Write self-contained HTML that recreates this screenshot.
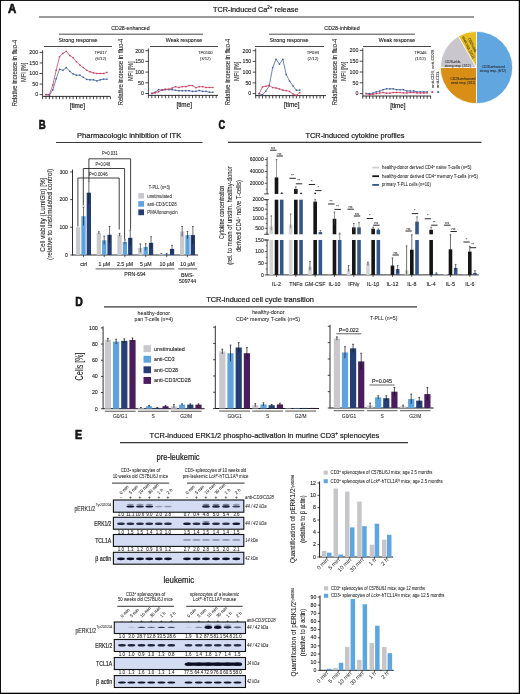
<!DOCTYPE html>
<html><head><meta charset="utf-8"><style>
html,body{margin:0;padding:0;background:#fff;}
svg{display:block;will-change:transform;}
text{font-family:"Liberation Sans", sans-serif;fill:#1a1a1a;}
</style></head><body>
<svg width="520" height="694" viewBox="0 0 520 694">
<rect width="520" height="694" fill="#fff"/>
<text x="8.10" y="12.50" font-size="12.4" textLength="8.3" lengthAdjust="spacingAndGlyphs" font-weight="bold" style="stroke:#000;stroke-width:0.55">A</text>
<text x="213.00" y="11.80" font-size="7.3" stroke="#1a1a1a" stroke-width="0.2">TCR-induced Ca<tspan font-size="4.5" dy="-2.6">2+</tspan><tspan dy="2.6"> release</tspan></text>
<line x1="39.00" y1="17.00" x2="474.00" y2="17.00" stroke="#383838" stroke-width="1.2"/>
<text x="130.50" y="29.70" font-size="5" text-anchor="middle" textLength="38.5" lengthAdjust="spacingAndGlyphs" stroke="#1a1a1a" stroke-width="0.1">CD28-enhanced</text>
<line x1="59.00" y1="34.20" x2="203.00" y2="34.20" stroke="#1a1a1a" stroke-width="0.8"/>
<text x="342.00" y="29.70" font-size="5" text-anchor="middle" textLength="35.5" lengthAdjust="spacingAndGlyphs" stroke="#1a1a1a" stroke-width="0.1">CD28-inhibited</text>
<line x1="269.00" y1="34.20" x2="415.00" y2="34.20" stroke="#1a1a1a" stroke-width="0.8"/>
<text x="78.00" y="42.17" font-size="5.2" text-anchor="middle" textLength="39" lengthAdjust="spacingAndGlyphs" stroke="#1a1a1a" stroke-width="0.1">Strong response</text>
<line x1="44.00" y1="46.50" x2="112.00" y2="46.50" stroke="#1a1a1a" stroke-width="0.8"/>
<line x1="42.60" y1="50.20" x2="42.60" y2="96.80" stroke="#1a1a1a" stroke-width="0.8"/>
<line x1="39.60" y1="94.60" x2="42.60" y2="94.60" stroke="#1a1a1a" stroke-width="0.8"/>
<text x="38.20" y="96.40" font-size="5.3" text-anchor="end" stroke="#1a1a1a" stroke-width="0.1">0</text>
<line x1="39.60" y1="84.05" x2="42.60" y2="84.05" stroke="#1a1a1a" stroke-width="0.8"/>
<text x="38.20" y="85.85" font-size="5.3" text-anchor="end" stroke="#1a1a1a" stroke-width="0.1">50</text>
<line x1="39.60" y1="73.50" x2="42.60" y2="73.50" stroke="#1a1a1a" stroke-width="0.8"/>
<text x="38.20" y="75.30" font-size="5.3" text-anchor="end" stroke="#1a1a1a" stroke-width="0.1">100</text>
<line x1="39.60" y1="62.95" x2="42.60" y2="62.95" stroke="#1a1a1a" stroke-width="0.8"/>
<text x="38.20" y="64.75" font-size="5.3" text-anchor="end" stroke="#1a1a1a" stroke-width="0.1">150</text>
<line x1="39.60" y1="52.40" x2="42.60" y2="52.40" stroke="#1a1a1a" stroke-width="0.8"/>
<text x="38.20" y="54.20" font-size="5.3" text-anchor="end" stroke="#1a1a1a" stroke-width="0.1">200</text>
<line x1="42.60" y1="96.40" x2="110.20" y2="96.40" stroke="#1a1a1a" stroke-width="0.9"/>
<line x1="42.60" y1="96.40" x2="42.60" y2="99.20" stroke="#1a1a1a" stroke-width="0.8"/>
<line x1="45.99" y1="96.40" x2="45.99" y2="99.20" stroke="#1a1a1a" stroke-width="0.8"/>
<line x1="49.38" y1="96.40" x2="49.38" y2="99.20" stroke="#1a1a1a" stroke-width="0.8"/>
<line x1="52.77" y1="96.40" x2="52.77" y2="99.20" stroke="#1a1a1a" stroke-width="0.8"/>
<line x1="56.16" y1="96.40" x2="56.16" y2="99.20" stroke="#1a1a1a" stroke-width="0.8"/>
<line x1="59.55" y1="96.40" x2="59.55" y2="99.20" stroke="#1a1a1a" stroke-width="0.8"/>
<line x1="62.94" y1="96.40" x2="62.94" y2="99.20" stroke="#1a1a1a" stroke-width="0.8"/>
<line x1="66.33" y1="96.40" x2="66.33" y2="99.20" stroke="#1a1a1a" stroke-width="0.8"/>
<line x1="69.72" y1="96.40" x2="69.72" y2="99.20" stroke="#1a1a1a" stroke-width="0.8"/>
<line x1="73.11" y1="96.40" x2="73.11" y2="99.20" stroke="#1a1a1a" stroke-width="0.8"/>
<line x1="76.50" y1="96.40" x2="76.50" y2="99.20" stroke="#1a1a1a" stroke-width="0.8"/>
<line x1="79.89" y1="96.40" x2="79.89" y2="99.20" stroke="#1a1a1a" stroke-width="0.8"/>
<line x1="83.28" y1="96.40" x2="83.28" y2="99.20" stroke="#1a1a1a" stroke-width="0.8"/>
<line x1="86.67" y1="96.40" x2="86.67" y2="99.20" stroke="#1a1a1a" stroke-width="0.8"/>
<line x1="90.06" y1="96.40" x2="90.06" y2="99.20" stroke="#1a1a1a" stroke-width="0.8"/>
<line x1="93.45" y1="96.40" x2="93.45" y2="99.20" stroke="#1a1a1a" stroke-width="0.8"/>
<line x1="96.84" y1="96.40" x2="96.84" y2="99.20" stroke="#1a1a1a" stroke-width="0.8"/>
<line x1="100.23" y1="96.40" x2="100.23" y2="99.20" stroke="#1a1a1a" stroke-width="0.8"/>
<line x1="103.62" y1="96.40" x2="103.62" y2="99.20" stroke="#1a1a1a" stroke-width="0.8"/>
<line x1="107.01" y1="96.40" x2="107.01" y2="99.20" stroke="#1a1a1a" stroke-width="0.8"/>
<line x1="110.40" y1="96.40" x2="110.40" y2="99.20" stroke="#1a1a1a" stroke-width="0.8"/>
<path d="M45.99,94.60 L49.38,95.23 L52.77,89.96 L56.16,78.77 L59.55,69.28 L62.94,70.33 L66.33,67.59 L69.72,71.39 L73.11,73.92 L76.50,75.19 L79.89,75.19 L83.28,77.30 L86.67,79.41 L90.06,79.83 L93.45,79.83 L96.84,80.88 L100.23,79.83 L103.62,79.20 L107.01,79.20" fill="none" stroke="#3d5c9c" stroke-width="0.75" stroke-linejoin="round"/>
<rect x="45.29" y="93.90" width="1.40" height="1.40" fill="#3d5c9c" />
<rect x="48.68" y="94.53" width="1.40" height="1.40" fill="#3d5c9c" />
<rect x="52.07" y="89.26" width="1.40" height="1.40" fill="#3d5c9c" />
<rect x="55.46" y="78.07" width="1.40" height="1.40" fill="#3d5c9c" />
<rect x="58.85" y="68.58" width="1.40" height="1.40" fill="#3d5c9c" />
<rect x="62.24" y="69.63" width="1.40" height="1.40" fill="#3d5c9c" />
<rect x="65.63" y="66.89" width="1.40" height="1.40" fill="#3d5c9c" />
<rect x="69.02" y="70.69" width="1.40" height="1.40" fill="#3d5c9c" />
<rect x="72.41" y="73.22" width="1.40" height="1.40" fill="#3d5c9c" />
<rect x="75.80" y="74.49" width="1.40" height="1.40" fill="#3d5c9c" />
<rect x="79.19" y="74.49" width="1.40" height="1.40" fill="#3d5c9c" />
<rect x="82.58" y="76.60" width="1.40" height="1.40" fill="#3d5c9c" />
<rect x="85.97" y="78.71" width="1.40" height="1.40" fill="#3d5c9c" />
<rect x="89.36" y="79.13" width="1.40" height="1.40" fill="#3d5c9c" />
<rect x="92.75" y="79.13" width="1.40" height="1.40" fill="#3d5c9c" />
<rect x="96.14" y="80.18" width="1.40" height="1.40" fill="#3d5c9c" />
<rect x="99.53" y="79.13" width="1.40" height="1.40" fill="#3d5c9c" />
<rect x="102.92" y="78.50" width="1.40" height="1.40" fill="#3d5c9c" />
<rect x="106.31" y="78.50" width="1.40" height="1.40" fill="#3d5c9c" />
<path d="M45.99,94.60 L49.38,94.60 L52.77,85.10 L56.16,70.33 L59.55,56.62 L62.94,53.45 L66.33,51.34 L69.72,55.56 L73.11,57.67 L76.50,61.90 L79.89,65.06 L83.28,67.59 L86.67,70.33 L90.06,71.81 L93.45,72.87 L96.84,73.50 L100.23,73.50 L103.62,73.50 L107.01,72.44" fill="none" stroke="#cc3a5c" stroke-width="0.75" stroke-linejoin="round"/>
<rect x="45.29" y="93.90" width="1.40" height="1.40" fill="#cc3a5c" />
<rect x="48.68" y="93.90" width="1.40" height="1.40" fill="#cc3a5c" />
<rect x="52.07" y="84.40" width="1.40" height="1.40" fill="#cc3a5c" />
<rect x="55.46" y="69.63" width="1.40" height="1.40" fill="#cc3a5c" />
<rect x="58.85" y="55.92" width="1.40" height="1.40" fill="#cc3a5c" />
<rect x="62.24" y="52.75" width="1.40" height="1.40" fill="#cc3a5c" />
<rect x="65.63" y="50.64" width="1.40" height="1.40" fill="#cc3a5c" />
<rect x="69.02" y="54.86" width="1.40" height="1.40" fill="#cc3a5c" />
<rect x="72.41" y="56.97" width="1.40" height="1.40" fill="#cc3a5c" />
<rect x="75.80" y="61.20" width="1.40" height="1.40" fill="#cc3a5c" />
<rect x="79.19" y="64.36" width="1.40" height="1.40" fill="#cc3a5c" />
<rect x="82.58" y="66.89" width="1.40" height="1.40" fill="#cc3a5c" />
<rect x="85.97" y="69.63" width="1.40" height="1.40" fill="#cc3a5c" />
<rect x="89.36" y="71.11" width="1.40" height="1.40" fill="#cc3a5c" />
<rect x="92.75" y="72.17" width="1.40" height="1.40" fill="#cc3a5c" />
<rect x="96.14" y="72.80" width="1.40" height="1.40" fill="#cc3a5c" />
<rect x="99.53" y="72.80" width="1.40" height="1.40" fill="#cc3a5c" />
<rect x="102.92" y="72.80" width="1.40" height="1.40" fill="#cc3a5c" />
<rect x="106.31" y="71.74" width="1.40" height="1.40" fill="#cc3a5c" />
<text x="100.70" y="54.23" font-size="4.2" text-anchor="middle" fill="#222" stroke="#222" stroke-width="0.04">TP017</text>
<text x="100.70" y="60.03" font-size="4.2" text-anchor="middle" fill="#222" stroke="#222" stroke-width="0.04">(6/12)</text>
<text x="77.40" y="107.98" font-size="7.6" text-anchor="middle" textLength="15.5" lengthAdjust="spacingAndGlyphs" stroke="#1a1a1a" stroke-width="0.2">[time]</text>
<text transform="translate(14.30,73.10) rotate(-90)" x="0" y="2.38" font-size="7" text-anchor="middle" textLength="66.5" lengthAdjust="spacingAndGlyphs" stroke="#1a1a1a" stroke-width="0.07">Relative increase in fluo-4</text>
<text transform="translate(23.60,72.30) rotate(-90)" x="0" y="2.38" font-size="7" text-anchor="middle" textLength="19.4" lengthAdjust="spacingAndGlyphs" stroke="#1a1a1a" stroke-width="0.07">MFI [%]</text>
<text x="184.00" y="42.17" font-size="5.2" text-anchor="middle" textLength="36.4" lengthAdjust="spacingAndGlyphs" stroke="#1a1a1a" stroke-width="0.1">Weak response</text>
<line x1="150.00" y1="46.50" x2="218.00" y2="46.50" stroke="#1a1a1a" stroke-width="0.8"/>
<line x1="148.40" y1="48.50" x2="148.40" y2="95.80" stroke="#1a1a1a" stroke-width="0.8"/>
<line x1="145.40" y1="93.50" x2="148.40" y2="93.50" stroke="#1a1a1a" stroke-width="0.8"/>
<text x="144.00" y="95.30" font-size="5.3" text-anchor="end" stroke="#1a1a1a" stroke-width="0.1">0</text>
<line x1="145.40" y1="82.80" x2="148.40" y2="82.80" stroke="#1a1a1a" stroke-width="0.8"/>
<text x="144.00" y="84.60" font-size="5.3" text-anchor="end" stroke="#1a1a1a" stroke-width="0.1">50</text>
<line x1="145.40" y1="72.10" x2="148.40" y2="72.10" stroke="#1a1a1a" stroke-width="0.8"/>
<text x="144.00" y="73.90" font-size="5.3" text-anchor="end" stroke="#1a1a1a" stroke-width="0.1">100</text>
<line x1="145.40" y1="61.40" x2="148.40" y2="61.40" stroke="#1a1a1a" stroke-width="0.8"/>
<text x="144.00" y="63.20" font-size="5.3" text-anchor="end" stroke="#1a1a1a" stroke-width="0.1">150</text>
<line x1="145.40" y1="50.70" x2="148.40" y2="50.70" stroke="#1a1a1a" stroke-width="0.8"/>
<text x="144.00" y="52.50" font-size="5.3" text-anchor="end" stroke="#1a1a1a" stroke-width="0.1">200</text>
<line x1="148.40" y1="95.40" x2="218.00" y2="95.40" stroke="#1a1a1a" stroke-width="0.9"/>
<line x1="148.40" y1="95.40" x2="148.40" y2="98.20" stroke="#1a1a1a" stroke-width="0.8"/>
<line x1="151.79" y1="95.40" x2="151.79" y2="98.20" stroke="#1a1a1a" stroke-width="0.8"/>
<line x1="155.18" y1="95.40" x2="155.18" y2="98.20" stroke="#1a1a1a" stroke-width="0.8"/>
<line x1="158.57" y1="95.40" x2="158.57" y2="98.20" stroke="#1a1a1a" stroke-width="0.8"/>
<line x1="161.96" y1="95.40" x2="161.96" y2="98.20" stroke="#1a1a1a" stroke-width="0.8"/>
<line x1="165.35" y1="95.40" x2="165.35" y2="98.20" stroke="#1a1a1a" stroke-width="0.8"/>
<line x1="168.74" y1="95.40" x2="168.74" y2="98.20" stroke="#1a1a1a" stroke-width="0.8"/>
<line x1="172.13" y1="95.40" x2="172.13" y2="98.20" stroke="#1a1a1a" stroke-width="0.8"/>
<line x1="175.52" y1="95.40" x2="175.52" y2="98.20" stroke="#1a1a1a" stroke-width="0.8"/>
<line x1="178.91" y1="95.40" x2="178.91" y2="98.20" stroke="#1a1a1a" stroke-width="0.8"/>
<line x1="182.30" y1="95.40" x2="182.30" y2="98.20" stroke="#1a1a1a" stroke-width="0.8"/>
<line x1="185.69" y1="95.40" x2="185.69" y2="98.20" stroke="#1a1a1a" stroke-width="0.8"/>
<line x1="189.08" y1="95.40" x2="189.08" y2="98.20" stroke="#1a1a1a" stroke-width="0.8"/>
<line x1="192.47" y1="95.40" x2="192.47" y2="98.20" stroke="#1a1a1a" stroke-width="0.8"/>
<line x1="195.86" y1="95.40" x2="195.86" y2="98.20" stroke="#1a1a1a" stroke-width="0.8"/>
<line x1="199.25" y1="95.40" x2="199.25" y2="98.20" stroke="#1a1a1a" stroke-width="0.8"/>
<line x1="202.64" y1="95.40" x2="202.64" y2="98.20" stroke="#1a1a1a" stroke-width="0.8"/>
<line x1="206.03" y1="95.40" x2="206.03" y2="98.20" stroke="#1a1a1a" stroke-width="0.8"/>
<line x1="209.42" y1="95.40" x2="209.42" y2="98.20" stroke="#1a1a1a" stroke-width="0.8"/>
<line x1="212.81" y1="95.40" x2="212.81" y2="98.20" stroke="#1a1a1a" stroke-width="0.8"/>
<line x1="216.20" y1="95.40" x2="216.20" y2="98.20" stroke="#1a1a1a" stroke-width="0.8"/>
<path d="M151.79,93.50 L155.18,92.22 L158.57,89.65 L161.96,90.29 L165.35,89.65 L168.74,89.65 L172.13,89.65 L175.52,90.29 L178.91,90.72 L182.30,90.72 L185.69,90.72 L189.08,90.72 L192.47,91.36 L195.86,91.36 L199.25,90.50 L202.64,91.36 L206.03,91.36 L209.42,92.22 L212.81,92.22" fill="none" stroke="#3d5c9c" stroke-width="0.75" stroke-linejoin="round"/>
<rect x="151.09" y="92.80" width="1.40" height="1.40" fill="#3d5c9c" />
<rect x="154.48" y="91.52" width="1.40" height="1.40" fill="#3d5c9c" />
<rect x="157.87" y="88.95" width="1.40" height="1.40" fill="#3d5c9c" />
<rect x="161.26" y="89.59" width="1.40" height="1.40" fill="#3d5c9c" />
<rect x="164.65" y="88.95" width="1.40" height="1.40" fill="#3d5c9c" />
<rect x="168.04" y="88.95" width="1.40" height="1.40" fill="#3d5c9c" />
<rect x="171.43" y="88.95" width="1.40" height="1.40" fill="#3d5c9c" />
<rect x="174.82" y="89.59" width="1.40" height="1.40" fill="#3d5c9c" />
<rect x="178.21" y="90.02" width="1.40" height="1.40" fill="#3d5c9c" />
<rect x="181.60" y="90.02" width="1.40" height="1.40" fill="#3d5c9c" />
<rect x="184.99" y="90.02" width="1.40" height="1.40" fill="#3d5c9c" />
<rect x="188.38" y="90.02" width="1.40" height="1.40" fill="#3d5c9c" />
<rect x="191.77" y="90.66" width="1.40" height="1.40" fill="#3d5c9c" />
<rect x="195.16" y="90.66" width="1.40" height="1.40" fill="#3d5c9c" />
<rect x="198.55" y="89.80" width="1.40" height="1.40" fill="#3d5c9c" />
<rect x="201.94" y="90.66" width="1.40" height="1.40" fill="#3d5c9c" />
<rect x="205.33" y="90.66" width="1.40" height="1.40" fill="#3d5c9c" />
<rect x="208.72" y="91.52" width="1.40" height="1.40" fill="#3d5c9c" />
<rect x="212.11" y="91.52" width="1.40" height="1.40" fill="#3d5c9c" />
<path d="M151.79,93.50 L155.18,92.86 L158.57,91.79 L161.96,89.86 L165.35,89.22 L168.74,89.22 L172.13,88.15 L175.52,86.65 L178.91,87.51 L182.30,86.65 L185.69,86.65 L189.08,85.58 L192.47,85.58 L195.86,87.72 L199.25,86.65 L202.64,86.65 L206.03,87.51 L209.42,87.51 L212.81,87.51" fill="none" stroke="#cc3a5c" stroke-width="0.75" stroke-linejoin="round"/>
<rect x="151.09" y="92.80" width="1.40" height="1.40" fill="#cc3a5c" />
<rect x="154.48" y="92.16" width="1.40" height="1.40" fill="#cc3a5c" />
<rect x="157.87" y="91.09" width="1.40" height="1.40" fill="#cc3a5c" />
<rect x="161.26" y="89.16" width="1.40" height="1.40" fill="#cc3a5c" />
<rect x="164.65" y="88.52" width="1.40" height="1.40" fill="#cc3a5c" />
<rect x="168.04" y="88.52" width="1.40" height="1.40" fill="#cc3a5c" />
<rect x="171.43" y="87.45" width="1.40" height="1.40" fill="#cc3a5c" />
<rect x="174.82" y="85.95" width="1.40" height="1.40" fill="#cc3a5c" />
<rect x="178.21" y="86.81" width="1.40" height="1.40" fill="#cc3a5c" />
<rect x="181.60" y="85.95" width="1.40" height="1.40" fill="#cc3a5c" />
<rect x="184.99" y="85.95" width="1.40" height="1.40" fill="#cc3a5c" />
<rect x="188.38" y="84.88" width="1.40" height="1.40" fill="#cc3a5c" />
<rect x="191.77" y="84.88" width="1.40" height="1.40" fill="#cc3a5c" />
<rect x="195.16" y="87.02" width="1.40" height="1.40" fill="#cc3a5c" />
<rect x="198.55" y="85.95" width="1.40" height="1.40" fill="#cc3a5c" />
<rect x="201.94" y="85.95" width="1.40" height="1.40" fill="#cc3a5c" />
<rect x="205.33" y="86.81" width="1.40" height="1.40" fill="#cc3a5c" />
<rect x="208.72" y="86.81" width="1.40" height="1.40" fill="#cc3a5c" />
<rect x="212.11" y="86.81" width="1.40" height="1.40" fill="#cc3a5c" />
<text x="205.30" y="54.23" font-size="4.2" text-anchor="middle" fill="#222" stroke="#222" stroke-width="0.04">TP0100</text>
<text x="205.30" y="60.03" font-size="4.2" text-anchor="middle" fill="#222" stroke="#222" stroke-width="0.04">(3/12)</text>
<text x="184.20" y="106.98" font-size="7.6" text-anchor="middle" textLength="15.5" lengthAdjust="spacingAndGlyphs" stroke="#1a1a1a" stroke-width="0.2">[time]</text>
<text transform="translate(121.10,72.00) rotate(-90)" x="0" y="2.38" font-size="7" text-anchor="middle" textLength="66.5" lengthAdjust="spacingAndGlyphs" stroke="#1a1a1a" stroke-width="0.07">Relative increase in fluo-4</text>
<text transform="translate(130.40,71.20) rotate(-90)" x="0" y="2.38" font-size="7" text-anchor="middle" textLength="19.4" lengthAdjust="spacingAndGlyphs" stroke="#1a1a1a" stroke-width="0.07">MFI [%]</text>
<text x="289.00" y="42.17" font-size="5.2" text-anchor="middle" textLength="39" lengthAdjust="spacingAndGlyphs" stroke="#1a1a1a" stroke-width="0.1">Strong response</text>
<line x1="255.00" y1="46.50" x2="324.00" y2="46.50" stroke="#1a1a1a" stroke-width="0.8"/>
<line x1="255.70" y1="48.50" x2="255.70" y2="96.00" stroke="#1a1a1a" stroke-width="0.8"/>
<line x1="252.70" y1="93.60" x2="255.70" y2="93.60" stroke="#1a1a1a" stroke-width="0.8"/>
<text x="251.30" y="95.40" font-size="5.3" text-anchor="end" stroke="#1a1a1a" stroke-width="0.1">0</text>
<line x1="252.70" y1="82.88" x2="255.70" y2="82.88" stroke="#1a1a1a" stroke-width="0.8"/>
<text x="251.30" y="84.68" font-size="5.3" text-anchor="end" stroke="#1a1a1a" stroke-width="0.1">50</text>
<line x1="252.70" y1="72.15" x2="255.70" y2="72.15" stroke="#1a1a1a" stroke-width="0.8"/>
<text x="251.30" y="73.95" font-size="5.3" text-anchor="end" stroke="#1a1a1a" stroke-width="0.1">100</text>
<line x1="252.70" y1="61.42" x2="255.70" y2="61.42" stroke="#1a1a1a" stroke-width="0.8"/>
<text x="251.30" y="63.23" font-size="5.3" text-anchor="end" stroke="#1a1a1a" stroke-width="0.1">150</text>
<line x1="252.70" y1="50.70" x2="255.70" y2="50.70" stroke="#1a1a1a" stroke-width="0.8"/>
<text x="251.30" y="52.50" font-size="5.3" text-anchor="end" stroke="#1a1a1a" stroke-width="0.1">200</text>
<line x1="255.70" y1="95.60" x2="326.00" y2="95.60" stroke="#1a1a1a" stroke-width="0.9"/>
<line x1="255.70" y1="95.60" x2="255.70" y2="98.40" stroke="#1a1a1a" stroke-width="0.8"/>
<line x1="259.09" y1="95.60" x2="259.09" y2="98.40" stroke="#1a1a1a" stroke-width="0.8"/>
<line x1="262.48" y1="95.60" x2="262.48" y2="98.40" stroke="#1a1a1a" stroke-width="0.8"/>
<line x1="265.87" y1="95.60" x2="265.87" y2="98.40" stroke="#1a1a1a" stroke-width="0.8"/>
<line x1="269.26" y1="95.60" x2="269.26" y2="98.40" stroke="#1a1a1a" stroke-width="0.8"/>
<line x1="272.65" y1="95.60" x2="272.65" y2="98.40" stroke="#1a1a1a" stroke-width="0.8"/>
<line x1="276.04" y1="95.60" x2="276.04" y2="98.40" stroke="#1a1a1a" stroke-width="0.8"/>
<line x1="279.43" y1="95.60" x2="279.43" y2="98.40" stroke="#1a1a1a" stroke-width="0.8"/>
<line x1="282.82" y1="95.60" x2="282.82" y2="98.40" stroke="#1a1a1a" stroke-width="0.8"/>
<line x1="286.21" y1="95.60" x2="286.21" y2="98.40" stroke="#1a1a1a" stroke-width="0.8"/>
<line x1="289.60" y1="95.60" x2="289.60" y2="98.40" stroke="#1a1a1a" stroke-width="0.8"/>
<line x1="292.99" y1="95.60" x2="292.99" y2="98.40" stroke="#1a1a1a" stroke-width="0.8"/>
<line x1="296.38" y1="95.60" x2="296.38" y2="98.40" stroke="#1a1a1a" stroke-width="0.8"/>
<line x1="299.77" y1="95.60" x2="299.77" y2="98.40" stroke="#1a1a1a" stroke-width="0.8"/>
<line x1="303.16" y1="95.60" x2="303.16" y2="98.40" stroke="#1a1a1a" stroke-width="0.8"/>
<line x1="306.55" y1="95.60" x2="306.55" y2="98.40" stroke="#1a1a1a" stroke-width="0.8"/>
<line x1="309.94" y1="95.60" x2="309.94" y2="98.40" stroke="#1a1a1a" stroke-width="0.8"/>
<line x1="313.33" y1="95.60" x2="313.33" y2="98.40" stroke="#1a1a1a" stroke-width="0.8"/>
<line x1="316.72" y1="95.60" x2="316.72" y2="98.40" stroke="#1a1a1a" stroke-width="0.8"/>
<line x1="320.11" y1="95.60" x2="320.11" y2="98.40" stroke="#1a1a1a" stroke-width="0.8"/>
<line x1="323.50" y1="95.60" x2="323.50" y2="98.40" stroke="#1a1a1a" stroke-width="0.8"/>
<path d="M259.09,93.60 L262.48,94.89 L265.87,91.03 L269.26,85.88 L272.65,67.65 L276.04,59.28 L279.43,64.21 L282.82,59.28 L286.21,74.51 L289.60,81.16 L292.99,85.88 L296.38,90.17 L299.77,90.17" fill="none" stroke="#3d5c9c" stroke-width="0.75" stroke-linejoin="round"/>
<rect x="258.39" y="92.90" width="1.40" height="1.40" fill="#3d5c9c" />
<rect x="261.78" y="94.19" width="1.40" height="1.40" fill="#3d5c9c" />
<rect x="265.17" y="90.33" width="1.40" height="1.40" fill="#3d5c9c" />
<rect x="268.56" y="85.18" width="1.40" height="1.40" fill="#3d5c9c" />
<rect x="271.95" y="66.95" width="1.40" height="1.40" fill="#3d5c9c" />
<rect x="275.34" y="58.58" width="1.40" height="1.40" fill="#3d5c9c" />
<rect x="278.73" y="63.51" width="1.40" height="1.40" fill="#3d5c9c" />
<rect x="282.12" y="58.58" width="1.40" height="1.40" fill="#3d5c9c" />
<rect x="285.51" y="73.81" width="1.40" height="1.40" fill="#3d5c9c" />
<rect x="288.90" y="80.46" width="1.40" height="1.40" fill="#3d5c9c" />
<rect x="292.29" y="85.18" width="1.40" height="1.40" fill="#3d5c9c" />
<rect x="295.68" y="89.47" width="1.40" height="1.40" fill="#3d5c9c" />
<rect x="299.07" y="89.47" width="1.40" height="1.40" fill="#3d5c9c" />
<path d="M259.09,93.60 L262.48,86.95 L265.87,86.31 L269.26,85.23 L272.65,87.59 L276.04,88.02 L279.43,88.88 L282.82,90.17 L286.21,90.60 L289.60,91.45 L292.99,94.03 L296.38,95.32 L299.77,92.74" fill="none" stroke="#cc3a5c" stroke-width="0.75" stroke-linejoin="round"/>
<rect x="258.39" y="92.90" width="1.40" height="1.40" fill="#cc3a5c" />
<rect x="261.78" y="86.25" width="1.40" height="1.40" fill="#cc3a5c" />
<rect x="265.17" y="85.61" width="1.40" height="1.40" fill="#cc3a5c" />
<rect x="268.56" y="84.53" width="1.40" height="1.40" fill="#cc3a5c" />
<rect x="271.95" y="86.89" width="1.40" height="1.40" fill="#cc3a5c" />
<rect x="275.34" y="87.32" width="1.40" height="1.40" fill="#cc3a5c" />
<rect x="278.73" y="88.18" width="1.40" height="1.40" fill="#cc3a5c" />
<rect x="282.12" y="89.47" width="1.40" height="1.40" fill="#cc3a5c" />
<rect x="285.51" y="89.90" width="1.40" height="1.40" fill="#cc3a5c" />
<rect x="288.90" y="90.75" width="1.40" height="1.40" fill="#cc3a5c" />
<rect x="292.29" y="93.33" width="1.40" height="1.40" fill="#cc3a5c" />
<rect x="295.68" y="94.62" width="1.40" height="1.40" fill="#cc3a5c" />
<rect x="299.07" y="92.04" width="1.40" height="1.40" fill="#cc3a5c" />
<text x="312.90" y="54.23" font-size="4.2" text-anchor="middle" fill="#222" stroke="#222" stroke-width="0.04">TP093</text>
<text x="312.90" y="60.03" font-size="4.2" text-anchor="middle" fill="#222" stroke="#222" stroke-width="0.04">(2/12)</text>
<text x="291.85" y="107.18" font-size="7.6" text-anchor="middle" textLength="15.5" lengthAdjust="spacingAndGlyphs" stroke="#1a1a1a" stroke-width="0.2">[time]</text>
<text transform="translate(227.50,72.10) rotate(-90)" x="0" y="2.38" font-size="7" text-anchor="middle" textLength="66.5" lengthAdjust="spacingAndGlyphs" stroke="#1a1a1a" stroke-width="0.07">Relative increase in fluo-4</text>
<text transform="translate(236.80,71.30) rotate(-90)" x="0" y="2.38" font-size="7" text-anchor="middle" textLength="19.4" lengthAdjust="spacingAndGlyphs" stroke="#1a1a1a" stroke-width="0.07">MFI [%]</text>
<text x="397.00" y="42.17" font-size="5.2" text-anchor="middle" textLength="36.4" lengthAdjust="spacingAndGlyphs" stroke="#1a1a1a" stroke-width="0.1">Weak response</text>
<line x1="363.00" y1="46.50" x2="431.00" y2="46.50" stroke="#1a1a1a" stroke-width="0.8"/>
<line x1="362.80" y1="48.20" x2="362.80" y2="96.40" stroke="#1a1a1a" stroke-width="0.8"/>
<line x1="359.80" y1="93.60" x2="362.80" y2="93.60" stroke="#1a1a1a" stroke-width="0.8"/>
<text x="358.40" y="95.40" font-size="5.3" text-anchor="end" stroke="#1a1a1a" stroke-width="0.1">0</text>
<line x1="359.80" y1="82.80" x2="362.80" y2="82.80" stroke="#1a1a1a" stroke-width="0.8"/>
<text x="358.40" y="84.60" font-size="5.3" text-anchor="end" stroke="#1a1a1a" stroke-width="0.1">50</text>
<line x1="359.80" y1="72.00" x2="362.80" y2="72.00" stroke="#1a1a1a" stroke-width="0.8"/>
<text x="358.40" y="73.80" font-size="5.3" text-anchor="end" stroke="#1a1a1a" stroke-width="0.1">100</text>
<line x1="359.80" y1="61.20" x2="362.80" y2="61.20" stroke="#1a1a1a" stroke-width="0.8"/>
<text x="358.40" y="63.00" font-size="5.3" text-anchor="end" stroke="#1a1a1a" stroke-width="0.1">150</text>
<line x1="359.80" y1="50.40" x2="362.80" y2="50.40" stroke="#1a1a1a" stroke-width="0.8"/>
<text x="358.40" y="52.20" font-size="5.3" text-anchor="end" stroke="#1a1a1a" stroke-width="0.1">200</text>
<line x1="362.80" y1="96.00" x2="431.00" y2="96.00" stroke="#1a1a1a" stroke-width="0.9"/>
<line x1="362.80" y1="96.00" x2="362.80" y2="98.80" stroke="#1a1a1a" stroke-width="0.8"/>
<line x1="366.19" y1="96.00" x2="366.19" y2="98.80" stroke="#1a1a1a" stroke-width="0.8"/>
<line x1="369.58" y1="96.00" x2="369.58" y2="98.80" stroke="#1a1a1a" stroke-width="0.8"/>
<line x1="372.97" y1="96.00" x2="372.97" y2="98.80" stroke="#1a1a1a" stroke-width="0.8"/>
<line x1="376.36" y1="96.00" x2="376.36" y2="98.80" stroke="#1a1a1a" stroke-width="0.8"/>
<line x1="379.75" y1="96.00" x2="379.75" y2="98.80" stroke="#1a1a1a" stroke-width="0.8"/>
<line x1="383.14" y1="96.00" x2="383.14" y2="98.80" stroke="#1a1a1a" stroke-width="0.8"/>
<line x1="386.53" y1="96.00" x2="386.53" y2="98.80" stroke="#1a1a1a" stroke-width="0.8"/>
<line x1="389.92" y1="96.00" x2="389.92" y2="98.80" stroke="#1a1a1a" stroke-width="0.8"/>
<line x1="393.31" y1="96.00" x2="393.31" y2="98.80" stroke="#1a1a1a" stroke-width="0.8"/>
<line x1="396.70" y1="96.00" x2="396.70" y2="98.80" stroke="#1a1a1a" stroke-width="0.8"/>
<line x1="400.09" y1="96.00" x2="400.09" y2="98.80" stroke="#1a1a1a" stroke-width="0.8"/>
<line x1="403.48" y1="96.00" x2="403.48" y2="98.80" stroke="#1a1a1a" stroke-width="0.8"/>
<line x1="406.87" y1="96.00" x2="406.87" y2="98.80" stroke="#1a1a1a" stroke-width="0.8"/>
<line x1="410.26" y1="96.00" x2="410.26" y2="98.80" stroke="#1a1a1a" stroke-width="0.8"/>
<line x1="413.65" y1="96.00" x2="413.65" y2="98.80" stroke="#1a1a1a" stroke-width="0.8"/>
<line x1="417.04" y1="96.00" x2="417.04" y2="98.80" stroke="#1a1a1a" stroke-width="0.8"/>
<line x1="420.43" y1="96.00" x2="420.43" y2="98.80" stroke="#1a1a1a" stroke-width="0.8"/>
<line x1="423.82" y1="96.00" x2="423.82" y2="98.80" stroke="#1a1a1a" stroke-width="0.8"/>
<line x1="427.21" y1="96.00" x2="427.21" y2="98.80" stroke="#1a1a1a" stroke-width="0.8"/>
<line x1="430.60" y1="96.00" x2="430.60" y2="98.80" stroke="#1a1a1a" stroke-width="0.8"/>
<path d="M366.19,93.60 L369.58,93.60 L372.97,93.17 L376.36,91.87 L379.75,91.01 L383.14,89.71 L386.53,88.85 L389.92,88.85 L393.31,88.85 L396.70,89.71 L400.09,89.71 L403.48,89.71 L406.87,91.01 L410.26,91.01 L413.65,91.01 L417.04,91.87 L420.43,91.87 L423.82,91.87 L427.21,91.87" fill="none" stroke="#3d5c9c" stroke-width="0.75" stroke-linejoin="round"/>
<rect x="365.49" y="92.90" width="1.40" height="1.40" fill="#3d5c9c" />
<rect x="368.88" y="92.90" width="1.40" height="1.40" fill="#3d5c9c" />
<rect x="372.27" y="92.47" width="1.40" height="1.40" fill="#3d5c9c" />
<rect x="375.66" y="91.17" width="1.40" height="1.40" fill="#3d5c9c" />
<rect x="379.05" y="90.31" width="1.40" height="1.40" fill="#3d5c9c" />
<rect x="382.44" y="89.01" width="1.40" height="1.40" fill="#3d5c9c" />
<rect x="385.83" y="88.15" width="1.40" height="1.40" fill="#3d5c9c" />
<rect x="389.22" y="88.15" width="1.40" height="1.40" fill="#3d5c9c" />
<rect x="392.61" y="88.15" width="1.40" height="1.40" fill="#3d5c9c" />
<rect x="396.00" y="89.01" width="1.40" height="1.40" fill="#3d5c9c" />
<rect x="399.39" y="89.01" width="1.40" height="1.40" fill="#3d5c9c" />
<rect x="402.78" y="89.01" width="1.40" height="1.40" fill="#3d5c9c" />
<rect x="406.17" y="90.31" width="1.40" height="1.40" fill="#3d5c9c" />
<rect x="409.56" y="90.31" width="1.40" height="1.40" fill="#3d5c9c" />
<rect x="412.95" y="90.31" width="1.40" height="1.40" fill="#3d5c9c" />
<rect x="416.34" y="91.17" width="1.40" height="1.40" fill="#3d5c9c" />
<rect x="419.73" y="91.17" width="1.40" height="1.40" fill="#3d5c9c" />
<rect x="423.12" y="91.17" width="1.40" height="1.40" fill="#3d5c9c" />
<rect x="426.51" y="91.17" width="1.40" height="1.40" fill="#3d5c9c" />
<path d="M366.19,93.60 L369.58,94.68 L372.97,94.25 L376.36,93.60 L379.75,92.95 L383.14,92.52 L386.53,93.17 L389.92,93.17 L393.31,92.52 L396.70,92.52 L400.09,92.52 L403.48,92.95 L406.87,92.95 L410.26,92.52 L413.65,92.52 L417.04,92.95 L420.43,92.95 L423.82,92.95 L427.21,92.95" fill="none" stroke="#cc3a5c" stroke-width="0.75" stroke-linejoin="round"/>
<rect x="365.49" y="92.90" width="1.40" height="1.40" fill="#cc3a5c" />
<rect x="368.88" y="93.98" width="1.40" height="1.40" fill="#cc3a5c" />
<rect x="372.27" y="93.55" width="1.40" height="1.40" fill="#cc3a5c" />
<rect x="375.66" y="92.90" width="1.40" height="1.40" fill="#cc3a5c" />
<rect x="379.05" y="92.25" width="1.40" height="1.40" fill="#cc3a5c" />
<rect x="382.44" y="91.82" width="1.40" height="1.40" fill="#cc3a5c" />
<rect x="385.83" y="92.47" width="1.40" height="1.40" fill="#cc3a5c" />
<rect x="389.22" y="92.47" width="1.40" height="1.40" fill="#cc3a5c" />
<rect x="392.61" y="91.82" width="1.40" height="1.40" fill="#cc3a5c" />
<rect x="396.00" y="91.82" width="1.40" height="1.40" fill="#cc3a5c" />
<rect x="399.39" y="91.82" width="1.40" height="1.40" fill="#cc3a5c" />
<rect x="402.78" y="92.25" width="1.40" height="1.40" fill="#cc3a5c" />
<rect x="406.17" y="92.25" width="1.40" height="1.40" fill="#cc3a5c" />
<rect x="409.56" y="91.82" width="1.40" height="1.40" fill="#cc3a5c" />
<rect x="412.95" y="91.82" width="1.40" height="1.40" fill="#cc3a5c" />
<rect x="416.34" y="92.25" width="1.40" height="1.40" fill="#cc3a5c" />
<rect x="419.73" y="92.25" width="1.40" height="1.40" fill="#cc3a5c" />
<rect x="423.12" y="92.25" width="1.40" height="1.40" fill="#cc3a5c" />
<rect x="426.51" y="92.25" width="1.40" height="1.40" fill="#cc3a5c" />
<text x="420.40" y="54.23" font-size="4.2" text-anchor="middle" fill="#222" stroke="#222" stroke-width="0.04">TP046</text>
<text x="420.40" y="60.03" font-size="4.2" text-anchor="middle" fill="#222" stroke="#222" stroke-width="0.04">(1/12)</text>
<text x="397.90" y="107.58" font-size="7.6" text-anchor="middle" textLength="15.5" lengthAdjust="spacingAndGlyphs" stroke="#1a1a1a" stroke-width="0.2">[time]</text>
<text transform="translate(334.30,72.10) rotate(-90)" x="0" y="2.38" font-size="7" text-anchor="middle" textLength="66.5" lengthAdjust="spacingAndGlyphs" stroke="#1a1a1a" stroke-width="0.07">Relative increase in fluo-4</text>
<text transform="translate(343.60,71.30) rotate(-90)" x="0" y="2.38" font-size="7" text-anchor="middle" textLength="19.4" lengthAdjust="spacingAndGlyphs" stroke="#1a1a1a" stroke-width="0.07">MFI [%]</text>
<text transform="translate(432.20,68.80) rotate(-90)" x="0" y="1.50" font-size="4.4" text-anchor="middle" textLength="38.5" lengthAdjust="spacingAndGlyphs" stroke="#1a1a1a" stroke-width="0.04">anti-CD3, anti-CD28</text>
<rect x="431.40" y="91.20" width="1.80" height="1.80" fill="#cc3a5c" />
<text transform="translate(437.90,79.80) rotate(-90)" x="0" y="1.50" font-size="4.4" text-anchor="middle" textLength="16.4" lengthAdjust="spacingAndGlyphs" stroke="#1a1a1a" stroke-width="0.04">anti-CD3</text>
<rect x="437.30" y="91.20" width="1.80" height="1.80" fill="#3d5c9c" />
<path d="M476.5,67.5 L476.50,31.30 A36.2,36.2 0 0 1 476.50,103.70 Z" fill="#62a6df" stroke="#fff" stroke-width="0.8"/>
<path d="M476.5,67.5 L476.50,103.70 A36.2,36.2 0 0 1 440.30,67.50 Z" fill="#d98f16" stroke="#fff" stroke-width="0.8"/>
<path d="M476.5,67.5 L440.30,67.50 A36.2,36.2 0 0 1 458.40,36.15 Z" fill="#c9c7cd" stroke="#fff" stroke-width="0.8"/>
<path d="M476.5,67.5 L458.40,36.15 A36.2,36.2 0 0 1 476.50,31.30 Z" fill="#e9bd22" stroke="#fff" stroke-width="0.8"/>
<text x="493.20" y="67.86" font-size="4.0" text-anchor="middle" textLength="23" lengthAdjust="spacingAndGlyphs" fill="#333" stroke="#333" stroke-width="0.04">CD28-enhanced</text>
<text x="493.00" y="72.26" font-size="4.0" text-anchor="middle" textLength="26.3" lengthAdjust="spacingAndGlyphs" fill="#333" stroke="#333" stroke-width="0.04">strong resp. (6/12)</text>
<text x="462.90" y="80.36" font-size="4.0" text-anchor="middle" textLength="25" lengthAdjust="spacingAndGlyphs" fill="#333" stroke="#333" stroke-width="0.04">CD28-enhanced</text>
<text x="463.20" y="84.36" font-size="4.0" text-anchor="middle" textLength="24.3" lengthAdjust="spacingAndGlyphs" fill="#333" stroke="#333" stroke-width="0.04">weak resp. (3/12)</text>
<text x="444.70" y="62.66" font-size="4.0" textLength="16.5" lengthAdjust="spacingAndGlyphs" fill="#333" stroke="#333" stroke-width="0.04">CD28-inhib.</text>
<text x="444.70" y="66.56" font-size="4.0" textLength="26" lengthAdjust="spacingAndGlyphs" fill="#333" stroke="#333" stroke-width="0.04">strong resp. (2/12)</text>
<g transform="translate(470.6,46.2) rotate(64)">
<text x="0.00" y="-0.77" font-size="3.9" text-anchor="middle" textLength="16" lengthAdjust="spacingAndGlyphs" fill="#333" stroke="#333" stroke-width="0.04">CD28-inhib.</text>
<text x="0.00" y="3.63" font-size="3.9" text-anchor="middle" textLength="24" lengthAdjust="spacingAndGlyphs" fill="#333" stroke="#333" stroke-width="0.04">weak resp. (1/12)</text>
</g>
<text x="38.80" y="128.70" font-size="12.2" textLength="7.0" lengthAdjust="spacingAndGlyphs" font-weight="bold" style="stroke:#000;stroke-width:0.55">B</text>
<text x="77.00" y="137.60" font-size="7.3" textLength="104.3" lengthAdjust="spacingAndGlyphs" stroke="#1a1a1a" stroke-width="0.2">Pharmacologic inhibition of ITK</text>
<line x1="56.00" y1="142.50" x2="202.50" y2="142.50" stroke="#383838" stroke-width="1.2"/>
<line x1="72.50" y1="169.60" x2="72.50" y2="255.40" stroke="#1a1a1a" stroke-width="0.9"/>
<line x1="70.30" y1="255.00" x2="72.50" y2="255.00" stroke="#1a1a1a" stroke-width="0.8"/>
<text x="67.90" y="256.70" font-size="5.0" text-anchor="end" stroke="#1a1a1a" stroke-width="0.1">0</text>
<line x1="70.30" y1="227.30" x2="72.50" y2="227.30" stroke="#1a1a1a" stroke-width="0.8"/>
<text x="67.90" y="229.00" font-size="5.0" text-anchor="end" stroke="#1a1a1a" stroke-width="0.1">100</text>
<line x1="70.30" y1="199.60" x2="72.50" y2="199.60" stroke="#1a1a1a" stroke-width="0.8"/>
<text x="67.90" y="201.30" font-size="5.0" text-anchor="end" stroke="#1a1a1a" stroke-width="0.1">200</text>
<line x1="70.30" y1="171.90" x2="72.50" y2="171.90" stroke="#1a1a1a" stroke-width="0.8"/>
<text x="67.90" y="173.60" font-size="5.0" text-anchor="end" stroke="#1a1a1a" stroke-width="0.1">300</text>
<line x1="72.50" y1="255.00" x2="198.00" y2="255.00" stroke="#1a1a1a" stroke-width="0.9"/>
<rect x="76.00" y="227.30" width="4.30" height="27.70" fill="#c9c8cd" />
<rect x="81.35" y="216.22" width="4.30" height="38.78" fill="#5ea3de" />
<line x1="83.50" y1="207.08" x2="83.50" y2="225.36" stroke="#111" stroke-width="0.6"/>
<line x1="82.60" y1="207.08" x2="84.40" y2="207.08" stroke="#111" stroke-width="0.6"/>
<rect x="86.70" y="192.68" width="4.30" height="62.33" fill="#253f74" />
<line x1="88.85" y1="181.04" x2="88.85" y2="204.31" stroke="#111" stroke-width="0.6"/>
<line x1="87.95" y1="181.04" x2="89.75" y2="181.04" stroke="#111" stroke-width="0.6"/>
<line x1="83.50" y1="255.00" x2="83.50" y2="257.20" stroke="#1a1a1a" stroke-width="0.7"/>
<rect x="96.70" y="232.84" width="4.30" height="22.16" fill="#c9c8cd" />
<line x1="98.85" y1="231.73" x2="98.85" y2="233.95" stroke="#111" stroke-width="0.6"/>
<line x1="97.95" y1="231.73" x2="99.75" y2="231.73" stroke="#111" stroke-width="0.6"/>
<rect x="102.05" y="240.32" width="4.30" height="14.68" fill="#5ea3de" />
<line x1="104.20" y1="236.16" x2="104.20" y2="244.47" stroke="#111" stroke-width="0.6"/>
<line x1="103.30" y1="236.16" x2="105.10" y2="236.16" stroke="#111" stroke-width="0.6"/>
<rect x="107.40" y="234.78" width="4.30" height="20.22" fill="#253f74" />
<line x1="109.55" y1="226.47" x2="109.55" y2="243.09" stroke="#111" stroke-width="0.6"/>
<line x1="108.65" y1="226.47" x2="110.45" y2="226.47" stroke="#111" stroke-width="0.6"/>
<line x1="104.20" y1="255.00" x2="104.20" y2="257.20" stroke="#1a1a1a" stroke-width="0.7"/>
<rect x="117.40" y="234.78" width="4.30" height="20.22" fill="#c9c8cd" />
<line x1="119.55" y1="233.39" x2="119.55" y2="236.16" stroke="#111" stroke-width="0.6"/>
<line x1="118.65" y1="233.39" x2="120.45" y2="233.39" stroke="#111" stroke-width="0.6"/>
<rect x="122.75" y="241.98" width="4.30" height="13.02" fill="#5ea3de" />
<line x1="124.90" y1="239.76" x2="124.90" y2="244.20" stroke="#111" stroke-width="0.6"/>
<line x1="124.00" y1="239.76" x2="125.80" y2="239.76" stroke="#111" stroke-width="0.6"/>
<rect x="128.10" y="237.83" width="4.30" height="17.17" fill="#253f74" />
<line x1="130.25" y1="230.07" x2="130.25" y2="245.58" stroke="#111" stroke-width="0.6"/>
<line x1="129.35" y1="230.07" x2="131.15" y2="230.07" stroke="#111" stroke-width="0.6"/>
<line x1="124.90" y1="255.00" x2="124.90" y2="257.20" stroke="#1a1a1a" stroke-width="0.7"/>
<rect x="138.20" y="248.07" width="4.30" height="6.93" fill="#c9c8cd" />
<line x1="140.35" y1="243.92" x2="140.35" y2="252.23" stroke="#111" stroke-width="0.6"/>
<line x1="139.45" y1="243.92" x2="141.25" y2="243.92" stroke="#111" stroke-width="0.6"/>
<rect x="143.55" y="246.97" width="4.30" height="8.03" fill="#5ea3de" />
<line x1="145.70" y1="243.64" x2="145.70" y2="250.29" stroke="#111" stroke-width="0.6"/>
<line x1="144.80" y1="243.64" x2="146.60" y2="243.64" stroke="#111" stroke-width="0.6"/>
<rect x="148.90" y="242.81" width="4.30" height="12.19" fill="#253f74" />
<line x1="151.05" y1="236.72" x2="151.05" y2="248.91" stroke="#111" stroke-width="0.6"/>
<line x1="150.15" y1="236.72" x2="151.95" y2="236.72" stroke="#111" stroke-width="0.6"/>
<line x1="145.70" y1="255.00" x2="145.70" y2="257.20" stroke="#1a1a1a" stroke-width="0.7"/>
<rect x="159.20" y="253.89" width="4.30" height="1.11" fill="#c9c8cd" />
<line x1="161.35" y1="253.62" x2="161.35" y2="254.17" stroke="#111" stroke-width="0.6"/>
<line x1="160.45" y1="253.62" x2="162.25" y2="253.62" stroke="#111" stroke-width="0.6"/>
<rect x="164.55" y="254.17" width="4.30" height="0.83" fill="#5ea3de" />
<line x1="166.70" y1="253.34" x2="166.70" y2="255.00" stroke="#111" stroke-width="0.6"/>
<line x1="165.80" y1="253.34" x2="167.60" y2="253.34" stroke="#111" stroke-width="0.6"/>
<rect x="169.90" y="248.91" width="4.30" height="6.09" fill="#253f74" />
<line x1="172.05" y1="245.31" x2="172.05" y2="252.51" stroke="#111" stroke-width="0.6"/>
<line x1="171.15" y1="245.31" x2="172.95" y2="245.31" stroke="#111" stroke-width="0.6"/>
<line x1="166.70" y1="255.00" x2="166.70" y2="257.20" stroke="#1a1a1a" stroke-width="0.7"/>
<rect x="180.00" y="231.45" width="4.30" height="23.55" fill="#c9c8cd" />
<line x1="182.15" y1="226.47" x2="182.15" y2="236.44" stroke="#111" stroke-width="0.6"/>
<line x1="181.25" y1="226.47" x2="183.05" y2="226.47" stroke="#111" stroke-width="0.6"/>
<rect x="185.35" y="235.06" width="4.30" height="19.94" fill="#5ea3de" />
<line x1="187.50" y1="231.45" x2="187.50" y2="238.66" stroke="#111" stroke-width="0.6"/>
<line x1="186.60" y1="231.45" x2="188.40" y2="231.45" stroke="#111" stroke-width="0.6"/>
<rect x="190.70" y="235.06" width="4.30" height="19.94" fill="#253f74" />
<line x1="192.85" y1="226.47" x2="192.85" y2="243.64" stroke="#111" stroke-width="0.6"/>
<line x1="191.95" y1="226.47" x2="193.75" y2="226.47" stroke="#111" stroke-width="0.6"/>
<line x1="187.50" y1="255.00" x2="187.50" y2="257.20" stroke="#1a1a1a" stroke-width="0.7"/>
<text x="83.60" y="265.97" font-size="5.2" text-anchor="middle" stroke="#1a1a1a" stroke-width="0.1">ctrl</text>
<text x="104.30" y="265.97" font-size="5.2" text-anchor="middle" stroke="#1a1a1a" stroke-width="0.1">1 µM</text>
<text x="125.00" y="265.97" font-size="5.2" text-anchor="middle" stroke="#1a1a1a" stroke-width="0.1">2.5 µM</text>
<text x="145.80" y="265.97" font-size="5.2" text-anchor="middle" stroke="#1a1a1a" stroke-width="0.1">5 µM</text>
<text x="166.80" y="265.97" font-size="5.2" text-anchor="middle" stroke="#1a1a1a" stroke-width="0.1">10 µM</text>
<text x="187.60" y="265.97" font-size="5.2" text-anchor="middle" stroke="#1a1a1a" stroke-width="0.1">10 µM</text>
<line x1="95.60" y1="268.90" x2="174.40" y2="268.90" stroke="#333" stroke-width="0.8"/>
<line x1="178.00" y1="268.90" x2="197.30" y2="268.90" stroke="#333" stroke-width="0.8"/>
<text x="135.00" y="276.17" font-size="5.2" text-anchor="middle" stroke="#1a1a1a" stroke-width="0.1">PRN-694</text>
<text x="187.60" y="276.57" font-size="5.2" text-anchor="middle" stroke="#1a1a1a" stroke-width="0.1">BMS-</text>
<text x="187.60" y="282.77" font-size="5.2" text-anchor="middle" stroke="#1a1a1a" stroke-width="0.1">509744</text>
<path d="M77.9,226.5 L77.9,178.0 L119.2,178.0 L119.2,229.5" fill="none" stroke="#111" stroke-width="0.8" />
<path d="M83.3,205.5 L83.3,168.5 L124.6,168.5 L124.6,239.0" fill="none" stroke="#111" stroke-width="0.8" />
<path d="M88.9,180.5 L88.9,158.8 L130.6,158.8 L130.6,229.5" fill="none" stroke="#111" stroke-width="0.8" />
<text x="98.20" y="175.76" font-size="4.6" text-anchor="middle" textLength="18.9" lengthAdjust="spacingAndGlyphs" fill="#111" stroke="#111" stroke-width="0.04">P=0.0046</text>
<text x="102.80" y="165.86" font-size="4.6" text-anchor="middle" textLength="14.5" lengthAdjust="spacingAndGlyphs" fill="#111" stroke="#111" stroke-width="0.04">P=0.048</text>
<text x="109.80" y="155.36" font-size="4.6" text-anchor="middle" textLength="15.7" lengthAdjust="spacingAndGlyphs" fill="#111" stroke="#111" stroke-width="0.04">P=0.031</text>
<text x="159.40" y="189.26" font-size="4.6" text-anchor="middle" textLength="21.1" lengthAdjust="spacingAndGlyphs" fill="#222" stroke="#222" stroke-width="0.04">T-PLL (n=3)</text>
<rect x="138.30" y="193.00" width="5.70" height="5.60" fill="#c9c8cd" />
<rect x="138.30" y="201.10" width="5.70" height="5.60" fill="#5ea3de" />
<rect x="138.30" y="209.40" width="5.70" height="5.80" fill="#253f74" />
<text x="147.30" y="197.53" font-size="4.8" textLength="24.5" lengthAdjust="spacingAndGlyphs" fill="#222" stroke="#222" stroke-width="0.04">unstimulated</text>
<text x="147.30" y="205.73" font-size="4.8" textLength="29.3" lengthAdjust="spacingAndGlyphs" fill="#222" stroke="#222" stroke-width="0.04">anti-CD3/CD28</text>
<text x="147.30" y="214.03" font-size="4.8" textLength="30.3" lengthAdjust="spacingAndGlyphs" fill="#222" stroke="#222" stroke-width="0.04">PMA/Ionomycin</text>
<text transform="translate(42.80,214.70) rotate(-90)" x="0" y="2.18" font-size="6.4" text-anchor="middle" textLength="74" lengthAdjust="spacingAndGlyphs" stroke="#1a1a1a" stroke-width="0.06">Cell viability (LumiGlo) [%]</text>
<text transform="translate(49.60,214.50) rotate(-90)" x="0" y="2.18" font-size="6.4" text-anchor="middle" textLength="91" lengthAdjust="spacingAndGlyphs" stroke="#1a1a1a" stroke-width="0.06">(relative to unstimulated control)</text>
<text x="218.50" y="128.90" font-size="12.0" textLength="6.7" lengthAdjust="spacingAndGlyphs" font-weight="bold" style="stroke:#000;stroke-width:0.55">C</text>
<text x="305.40" y="137.60" font-size="7.3" textLength="99.2" lengthAdjust="spacingAndGlyphs" stroke="#1a1a1a" stroke-width="0.2">TCR-induced cytokine profiles</text>
<line x1="228.00" y1="142.40" x2="481.50" y2="142.40" stroke="#383838" stroke-width="1.2"/>
<line x1="267.10" y1="157.00" x2="267.10" y2="193.90" stroke="#1a1a1a" stroke-width="0.8"/>
<line x1="267.10" y1="199.70" x2="267.10" y2="234.30" stroke="#1a1a1a" stroke-width="0.8"/>
<line x1="267.10" y1="240.00" x2="267.10" y2="275.30" stroke="#1a1a1a" stroke-width="0.8"/>
<line x1="264.10" y1="193.90" x2="268.90" y2="193.90" stroke="#1a1a1a" stroke-width="0.8"/>
<line x1="264.10" y1="199.70" x2="268.90" y2="199.70" stroke="#1a1a1a" stroke-width="0.8"/>
<line x1="264.10" y1="234.30" x2="268.90" y2="234.30" stroke="#1a1a1a" stroke-width="0.8"/>
<line x1="264.10" y1="240.00" x2="268.90" y2="240.00" stroke="#1a1a1a" stroke-width="0.8"/>
<line x1="264.80" y1="183.30" x2="267.10" y2="183.30" stroke="#1a1a1a" stroke-width="0.7"/>
<text x="263.70" y="185.00" font-size="5.0" text-anchor="end" stroke="#1a1a1a" stroke-width="0.1">20000</text>
<line x1="264.80" y1="171.45" x2="267.10" y2="171.45" stroke="#1a1a1a" stroke-width="0.7"/>
<text x="263.70" y="173.15" font-size="5.0" text-anchor="end" stroke="#1a1a1a" stroke-width="0.1">40000</text>
<line x1="264.80" y1="159.60" x2="267.10" y2="159.60" stroke="#1a1a1a" stroke-width="0.7"/>
<text x="263.70" y="161.30" font-size="5.0" text-anchor="end" stroke="#1a1a1a" stroke-width="0.1">60000</text>
<line x1="265.80" y1="189.23" x2="267.10" y2="189.23" stroke="#1a1a1a" stroke-width="0.6"/>
<line x1="265.80" y1="177.38" x2="267.10" y2="177.38" stroke="#1a1a1a" stroke-width="0.6"/>
<line x1="265.80" y1="165.53" x2="267.10" y2="165.53" stroke="#1a1a1a" stroke-width="0.6"/>
<line x1="264.80" y1="199.70" x2="267.10" y2="199.70" stroke="#1a1a1a" stroke-width="0.7"/>
<text x="263.70" y="201.40" font-size="5.0" text-anchor="end" stroke="#1a1a1a" stroke-width="0.1">2000</text>
<line x1="264.80" y1="209.23" x2="267.10" y2="209.23" stroke="#1a1a1a" stroke-width="0.7"/>
<text x="263.70" y="210.93" font-size="5.0" text-anchor="end" stroke="#1a1a1a" stroke-width="0.1">1500</text>
<line x1="264.80" y1="218.77" x2="267.10" y2="218.77" stroke="#1a1a1a" stroke-width="0.7"/>
<text x="263.70" y="220.47" font-size="5.0" text-anchor="end" stroke="#1a1a1a" stroke-width="0.1">1000</text>
<line x1="264.80" y1="228.30" x2="267.10" y2="228.30" stroke="#1a1a1a" stroke-width="0.7"/>
<text x="263.70" y="230.00" font-size="5.0" text-anchor="end" stroke="#1a1a1a" stroke-width="0.1">500</text>
<line x1="265.80" y1="204.47" x2="267.10" y2="204.47" stroke="#1a1a1a" stroke-width="0.6"/>
<line x1="265.80" y1="214.00" x2="267.10" y2="214.00" stroke="#1a1a1a" stroke-width="0.6"/>
<line x1="265.80" y1="223.54" x2="267.10" y2="223.54" stroke="#1a1a1a" stroke-width="0.6"/>
<line x1="265.80" y1="233.07" x2="267.10" y2="233.07" stroke="#1a1a1a" stroke-width="0.6"/>
<line x1="264.80" y1="274.90" x2="267.10" y2="274.90" stroke="#1a1a1a" stroke-width="0.7"/>
<text x="263.70" y="276.60" font-size="5.0" text-anchor="end" stroke="#1a1a1a" stroke-width="0.1">0</text>
<line x1="264.80" y1="263.26" x2="267.10" y2="263.26" stroke="#1a1a1a" stroke-width="0.7"/>
<text x="263.70" y="264.96" font-size="5.0" text-anchor="end" stroke="#1a1a1a" stroke-width="0.1">50</text>
<line x1="264.80" y1="251.63" x2="267.10" y2="251.63" stroke="#1a1a1a" stroke-width="0.7"/>
<text x="263.70" y="253.33" font-size="5.0" text-anchor="end" stroke="#1a1a1a" stroke-width="0.1">100</text>
<line x1="264.80" y1="239.99" x2="267.10" y2="239.99" stroke="#1a1a1a" stroke-width="0.7"/>
<text x="263.70" y="241.69" font-size="5.0" text-anchor="end" stroke="#1a1a1a" stroke-width="0.1">150</text>
<line x1="265.80" y1="269.08" x2="267.10" y2="269.08" stroke="#1a1a1a" stroke-width="0.6"/>
<line x1="265.80" y1="257.45" x2="267.10" y2="257.45" stroke="#1a1a1a" stroke-width="0.6"/>
<line x1="265.80" y1="245.81" x2="267.10" y2="245.81" stroke="#1a1a1a" stroke-width="0.6"/>
<line x1="267.10" y1="274.90" x2="478.80" y2="274.90" stroke="#1a1a1a" stroke-width="0.9"/>
<rect x="269.50" y="239.99" width="3.60" height="34.91" fill="#d3d3d3" />
<rect x="269.50" y="226.40" width="3.60" height="7.90" fill="#d3d3d3" />
<rect x="274.70" y="239.99" width="3.60" height="34.91" fill="#151515" />
<rect x="274.70" y="199.70" width="3.60" height="34.60" fill="#151515" />
<rect x="274.70" y="177.38" width="3.60" height="16.53" fill="#151515" />
<rect x="279.90" y="239.99" width="3.60" height="34.91" fill="#33568b" />
<rect x="279.90" y="199.70" width="3.60" height="34.60" fill="#33568b" />
<rect x="279.90" y="193.61" width="3.60" height="0.29" fill="#33568b" />
<line x1="271.30" y1="215.91" x2="271.30" y2="230.21" stroke="#555" stroke-width="0.6"/>
<line x1="270.50" y1="215.91" x2="272.10" y2="215.91" stroke="#111" stroke-width="0.6"/>
<line x1="276.50" y1="159.60" x2="276.50" y2="177.38" stroke="#555" stroke-width="0.6"/>
<line x1="275.70" y1="159.60" x2="277.30" y2="159.60" stroke="#111" stroke-width="0.6"/>
<line x1="276.50" y1="274.90" x2="276.50" y2="277.00" stroke="#1a1a1a" stroke-width="0.7"/>
<text x="276.50" y="285.60" font-size="5.3" text-anchor="middle" stroke="#1a1a1a" stroke-width="0.1">IL-2</text>
<rect x="288.83" y="239.99" width="3.60" height="34.91" fill="#d3d3d3" />
<rect x="288.83" y="224.49" width="3.60" height="9.81" fill="#d3d3d3" />
<rect x="294.03" y="239.99" width="3.60" height="34.91" fill="#151515" />
<rect x="294.03" y="199.70" width="3.60" height="34.60" fill="#151515" />
<rect x="294.03" y="188.93" width="3.60" height="4.97" fill="#151515" />
<rect x="299.23" y="239.99" width="3.60" height="34.91" fill="#33568b" />
<rect x="299.23" y="199.70" width="3.60" height="34.60" fill="#33568b" />
<rect x="299.23" y="193.79" width="3.60" height="0.11" fill="#33568b" />
<line x1="290.63" y1="214.00" x2="290.63" y2="228.30" stroke="#555" stroke-width="0.6"/>
<line x1="289.83" y1="214.00" x2="291.43" y2="214.00" stroke="#111" stroke-width="0.6"/>
<line x1="295.83" y1="186.86" x2="295.83" y2="190.41" stroke="#555" stroke-width="0.6"/>
<line x1="295.03" y1="186.86" x2="296.63" y2="186.86" stroke="#111" stroke-width="0.6"/>
<line x1="295.83" y1="274.90" x2="295.83" y2="277.00" stroke="#1a1a1a" stroke-width="0.7"/>
<text x="295.83" y="285.60" font-size="5.3" text-anchor="middle" stroke="#1a1a1a" stroke-width="0.1">TNFα</text>
<rect x="308.16" y="266.76" width="3.60" height="8.14" fill="#d3d3d3" />
<rect x="313.36" y="239.99" width="3.60" height="34.91" fill="#151515" />
<rect x="313.36" y="201.61" width="3.60" height="32.69" fill="#151515" />
<rect x="318.56" y="239.99" width="3.60" height="34.91" fill="#33568b" />
<rect x="318.56" y="232.12" width="3.60" height="2.18" fill="#33568b" />
<line x1="309.96" y1="261.40" x2="309.96" y2="270.25" stroke="#111" stroke-width="0.6"/>
<line x1="309.16" y1="261.40" x2="310.76" y2="261.40" stroke="#111" stroke-width="0.6"/>
<line x1="315.16" y1="199.70" x2="315.16" y2="203.51" stroke="#555" stroke-width="0.6"/>
<line x1="314.36" y1="199.70" x2="315.96" y2="199.70" stroke="#111" stroke-width="0.6"/>
<line x1="320.36" y1="230.59" x2="320.36" y2="233.07" stroke="#555" stroke-width="0.6"/>
<line x1="319.56" y1="230.59" x2="321.16" y2="230.59" stroke="#111" stroke-width="0.6"/>
<line x1="315.16" y1="274.90" x2="315.16" y2="277.00" stroke="#1a1a1a" stroke-width="0.7"/>
<text x="315.16" y="285.60" font-size="5.3" text-anchor="middle" stroke="#1a1a1a" stroke-width="0.1">GM-CSF</text>
<rect x="327.49" y="274.67" width="3.60" height="0.23" fill="#d3d3d3" />
<rect x="332.69" y="239.99" width="3.60" height="34.91" fill="#151515" />
<rect x="332.69" y="218.77" width="3.60" height="15.53" fill="#151515" />
<rect x="337.89" y="239.99" width="3.60" height="34.91" fill="#33568b" />
<rect x="337.89" y="234.03" width="3.60" height="0.27" fill="#33568b" />
<line x1="334.49" y1="212.10" x2="334.49" y2="224.49" stroke="#555" stroke-width="0.6"/>
<line x1="333.69" y1="212.10" x2="335.29" y2="212.10" stroke="#111" stroke-width="0.6"/>
<line x1="339.69" y1="233.07" x2="339.69" y2="239.99" stroke="#555" stroke-width="0.6"/>
<line x1="338.89" y1="233.07" x2="340.49" y2="233.07" stroke="#111" stroke-width="0.6"/>
<line x1="334.49" y1="274.90" x2="334.49" y2="277.00" stroke="#1a1a1a" stroke-width="0.7"/>
<text x="334.49" y="285.60" font-size="5.3" text-anchor="middle" stroke="#1a1a1a" stroke-width="0.1">IL-10</text>
<rect x="346.82" y="269.08" width="3.60" height="5.82" fill="#d3d3d3" />
<rect x="352.02" y="239.99" width="3.60" height="34.91" fill="#151515" />
<rect x="352.02" y="227.35" width="3.60" height="6.95" fill="#151515" />
<rect x="357.22" y="239.99" width="3.60" height="34.91" fill="#33568b" />
<rect x="357.22" y="227.35" width="3.60" height="6.95" fill="#33568b" />
<line x1="348.62" y1="265.59" x2="348.62" y2="271.41" stroke="#111" stroke-width="0.6"/>
<line x1="347.82" y1="265.59" x2="349.42" y2="265.59" stroke="#111" stroke-width="0.6"/>
<line x1="353.82" y1="223.54" x2="353.82" y2="230.21" stroke="#555" stroke-width="0.6"/>
<line x1="353.02" y1="223.54" x2="354.62" y2="223.54" stroke="#111" stroke-width="0.6"/>
<line x1="359.02" y1="222.58" x2="359.02" y2="232.12" stroke="#555" stroke-width="0.6"/>
<line x1="358.22" y1="222.58" x2="359.82" y2="222.58" stroke="#111" stroke-width="0.6"/>
<line x1="353.82" y1="274.90" x2="353.82" y2="277.00" stroke="#1a1a1a" stroke-width="0.7"/>
<text x="353.82" y="285.60" font-size="5.3" text-anchor="middle" stroke="#1a1a1a" stroke-width="0.1">IFNγ</text>
<rect x="366.15" y="263.26" width="3.60" height="11.63" fill="#d3d3d3" />
<rect x="371.35" y="239.99" width="3.60" height="34.91" fill="#151515" />
<rect x="371.35" y="228.69" width="3.60" height="5.61" fill="#151515" />
<rect x="376.55" y="239.99" width="3.60" height="34.91" fill="#33568b" />
<rect x="376.55" y="229.83" width="3.60" height="4.47" fill="#33568b" />
<line x1="367.95" y1="262.10" x2="367.95" y2="265.59" stroke="#111" stroke-width="0.6"/>
<line x1="367.15" y1="262.10" x2="368.75" y2="262.10" stroke="#111" stroke-width="0.6"/>
<line x1="373.15" y1="227.16" x2="373.15" y2="229.83" stroke="#555" stroke-width="0.6"/>
<line x1="372.35" y1="227.16" x2="373.95" y2="227.16" stroke="#111" stroke-width="0.6"/>
<line x1="378.35" y1="228.88" x2="378.35" y2="230.59" stroke="#555" stroke-width="0.6"/>
<line x1="377.55" y1="228.88" x2="379.15" y2="228.88" stroke="#111" stroke-width="0.6"/>
<line x1="373.15" y1="274.90" x2="373.15" y2="277.00" stroke="#1a1a1a" stroke-width="0.7"/>
<text x="373.15" y="285.60" font-size="5.3" text-anchor="middle" stroke="#1a1a1a" stroke-width="0.1">IL-1β</text>
<rect x="390.68" y="265.59" width="3.60" height="9.31" fill="#151515" />
<rect x="395.88" y="269.08" width="3.60" height="5.82" fill="#33568b" />
<line x1="392.48" y1="257.91" x2="392.48" y2="270.25" stroke="#111" stroke-width="0.6"/>
<line x1="391.68" y1="257.91" x2="393.28" y2="257.91" stroke="#111" stroke-width="0.6"/>
<line x1="397.68" y1="265.59" x2="397.68" y2="272.57" stroke="#111" stroke-width="0.6"/>
<line x1="396.88" y1="265.59" x2="398.48" y2="265.59" stroke="#111" stroke-width="0.6"/>
<line x1="392.48" y1="274.90" x2="392.48" y2="277.00" stroke="#1a1a1a" stroke-width="0.7"/>
<text x="392.48" y="285.60" font-size="5.3" text-anchor="middle" stroke="#1a1a1a" stroke-width="0.1">IL-12</text>
<rect x="404.81" y="270.25" width="3.60" height="4.65" fill="#d3d3d3" />
<rect x="410.01" y="249.77" width="3.60" height="25.13" fill="#151515" />
<rect x="415.21" y="239.99" width="3.60" height="34.91" fill="#33568b" />
<rect x="415.21" y="221.63" width="3.60" height="12.67" fill="#33568b" />
<line x1="406.61" y1="245.81" x2="406.61" y2="274.90" stroke="#111" stroke-width="0.6"/>
<line x1="405.81" y1="245.81" x2="407.41" y2="245.81" stroke="#111" stroke-width="0.6"/>
<line x1="411.81" y1="234.79" x2="411.81" y2="274.90" stroke="#111" stroke-width="0.6"/>
<line x1="411.01" y1="234.79" x2="412.61" y2="234.79" stroke="#111" stroke-width="0.6"/>
<line x1="417.01" y1="216.86" x2="417.01" y2="226.40" stroke="#555" stroke-width="0.6"/>
<line x1="416.21" y1="216.86" x2="417.81" y2="216.86" stroke="#111" stroke-width="0.6"/>
<line x1="411.81" y1="274.90" x2="411.81" y2="277.00" stroke="#1a1a1a" stroke-width="0.7"/>
<text x="411.81" y="285.60" font-size="5.3" text-anchor="middle" stroke="#1a1a1a" stroke-width="0.1">IL-8</text>
<rect x="429.34" y="239.99" width="3.60" height="34.91" fill="#151515" />
<rect x="429.34" y="229.83" width="3.60" height="4.47" fill="#151515" />
<rect x="434.54" y="273.74" width="3.60" height="1.16" fill="#33568b" />
<line x1="431.14" y1="227.22" x2="431.14" y2="229.83" stroke="#555" stroke-width="0.6"/>
<line x1="430.34" y1="227.22" x2="431.94" y2="227.22" stroke="#111" stroke-width="0.6"/>
<line x1="436.34" y1="272.81" x2="436.34" y2="273.74" stroke="#111" stroke-width="0.6"/>
<line x1="435.54" y1="272.81" x2="437.14" y2="272.81" stroke="#111" stroke-width="0.6"/>
<line x1="431.14" y1="274.90" x2="431.14" y2="277.00" stroke="#1a1a1a" stroke-width="0.7"/>
<text x="431.14" y="285.60" font-size="5.3" text-anchor="middle" stroke="#1a1a1a" stroke-width="0.1">IL-4</text>
<rect x="443.47" y="274.20" width="3.60" height="0.70" fill="#d3d3d3" />
<rect x="448.67" y="249.30" width="3.60" height="25.60" fill="#151515" />
<rect x="453.87" y="267.92" width="3.60" height="6.98" fill="#33568b" />
<line x1="450.47" y1="234.79" x2="450.47" y2="249.30" stroke="#111" stroke-width="0.6"/>
<line x1="449.67" y1="234.79" x2="451.27" y2="234.79" stroke="#111" stroke-width="0.6"/>
<line x1="455.67" y1="264.43" x2="455.67" y2="270.25" stroke="#111" stroke-width="0.6"/>
<line x1="454.87" y1="264.43" x2="456.47" y2="264.43" stroke="#111" stroke-width="0.6"/>
<line x1="450.47" y1="274.90" x2="450.47" y2="277.00" stroke="#1a1a1a" stroke-width="0.7"/>
<text x="450.47" y="285.60" font-size="5.3" text-anchor="middle" stroke="#1a1a1a" stroke-width="0.1">IL-5</text>
<rect x="462.80" y="274.67" width="3.60" height="0.23" fill="#d3d3d3" />
<rect x="468.00" y="251.63" width="3.60" height="23.27" fill="#151515" />
<rect x="473.20" y="273.04" width="3.60" height="1.86" fill="#33568b" />
<line x1="469.80" y1="246.28" x2="469.80" y2="256.28" stroke="#111" stroke-width="0.6"/>
<line x1="469.00" y1="246.28" x2="470.60" y2="246.28" stroke="#111" stroke-width="0.6"/>
<line x1="475.00" y1="270.71" x2="475.00" y2="274.20" stroke="#111" stroke-width="0.6"/>
<line x1="474.20" y1="270.71" x2="475.80" y2="270.71" stroke="#111" stroke-width="0.6"/>
<line x1="469.80" y1="274.90" x2="469.80" y2="277.00" stroke="#1a1a1a" stroke-width="0.7"/>
<text x="469.80" y="285.60" font-size="5.3" text-anchor="middle" stroke="#1a1a1a" stroke-width="0.1">IL-6</text>
<rect x="280.90" y="192.50" width="1.60" height="1.40" fill="#111" />
<rect x="300.23" y="192.70" width="1.60" height="1.40" fill="#111" />
<rect x="314.36" y="192.70" width="1.60" height="1.40" fill="#111" />
<line x1="270.10" y1="150.20" x2="276.50" y2="150.20" stroke="#111" stroke-width="0.9"/>
<text x="273.10" y="148.79" font-size="3.8" text-anchor="middle" fill="#333" stroke="#333" stroke-width="0.04">ns</text>
<line x1="276.50" y1="156.00" x2="282.90" y2="156.00" stroke="#111" stroke-width="0.9"/>
<text x="279.50" y="154.59" font-size="3.8" text-anchor="middle" fill="#333" stroke="#333" stroke-width="0.04">ns</text>
<line x1="289.43" y1="178.30" x2="295.83" y2="178.30" stroke="#111" stroke-width="0.9"/>
<text x="292.43" y="176.89" font-size="3.8" text-anchor="middle" fill="#333" stroke="#333" stroke-width="0.04">**</text>
<line x1="295.83" y1="183.80" x2="302.23" y2="183.80" stroke="#111" stroke-width="0.9"/>
<text x="298.83" y="182.39" font-size="3.8" text-anchor="middle" fill="#333" stroke="#333" stroke-width="0.04">**</text>
<line x1="308.76" y1="184.50" x2="315.16" y2="184.50" stroke="#111" stroke-width="0.9"/>
<text x="311.76" y="183.09" font-size="3.8" text-anchor="middle" fill="#333" stroke="#333" stroke-width="0.04">*</text>
<line x1="315.16" y1="190.60" x2="321.56" y2="190.60" stroke="#111" stroke-width="0.9"/>
<text x="318.16" y="189.19" font-size="3.8" text-anchor="middle" fill="#333" stroke="#333" stroke-width="0.04">*</text>
<line x1="328.09" y1="204.00" x2="334.49" y2="204.00" stroke="#111" stroke-width="0.9"/>
<text x="331.09" y="202.59" font-size="3.8" text-anchor="middle" fill="#333" stroke="#333" stroke-width="0.04">**</text>
<line x1="334.49" y1="209.40" x2="340.89" y2="209.40" stroke="#111" stroke-width="0.9"/>
<text x="337.49" y="207.99" font-size="3.8" text-anchor="middle" fill="#333" stroke="#333" stroke-width="0.04">**</text>
<line x1="347.42" y1="209.20" x2="353.82" y2="209.20" stroke="#111" stroke-width="0.9"/>
<text x="350.42" y="207.79" font-size="3.8" text-anchor="middle" fill="#333" stroke="#333" stroke-width="0.04">ns</text>
<line x1="353.82" y1="216.00" x2="360.22" y2="216.00" stroke="#111" stroke-width="0.9"/>
<text x="356.82" y="214.59" font-size="3.8" text-anchor="middle" fill="#333" stroke="#333" stroke-width="0.04">ns</text>
<line x1="366.75" y1="218.50" x2="373.15" y2="218.50" stroke="#111" stroke-width="0.9"/>
<text x="369.75" y="217.09" font-size="3.8" text-anchor="middle" fill="#333" stroke="#333" stroke-width="0.04">*</text>
<line x1="373.15" y1="225.20" x2="379.55" y2="225.20" stroke="#111" stroke-width="0.9"/>
<text x="376.15" y="223.79" font-size="3.8" text-anchor="middle" fill="#333" stroke="#333" stroke-width="0.04">ns</text>
<line x1="392.48" y1="255.00" x2="398.88" y2="255.00" stroke="#111" stroke-width="0.9"/>
<text x="395.48" y="253.59" font-size="3.8" text-anchor="middle" fill="#333" stroke="#333" stroke-width="0.04">ns</text>
<line x1="405.41" y1="231.00" x2="411.81" y2="231.00" stroke="#111" stroke-width="0.9"/>
<text x="408.41" y="229.59" font-size="3.8" text-anchor="middle" fill="#333" stroke="#333" stroke-width="0.04">ns</text>
<line x1="411.81" y1="213.60" x2="418.21" y2="213.60" stroke="#111" stroke-width="0.9"/>
<text x="414.81" y="212.19" font-size="3.8" text-anchor="middle" fill="#333" stroke="#333" stroke-width="0.04">*</text>
<line x1="424.74" y1="218.80" x2="431.14" y2="218.80" stroke="#111" stroke-width="0.9"/>
<text x="427.74" y="217.39" font-size="3.8" text-anchor="middle" fill="#333" stroke="#333" stroke-width="0.04">*</text>
<line x1="431.14" y1="225.20" x2="437.54" y2="225.20" stroke="#111" stroke-width="0.9"/>
<text x="434.14" y="223.79" font-size="3.8" text-anchor="middle" fill="#333" stroke="#333" stroke-width="0.04">**</text>
<line x1="444.07" y1="225.20" x2="450.47" y2="225.20" stroke="#111" stroke-width="0.9"/>
<text x="447.07" y="223.79" font-size="3.8" text-anchor="middle" fill="#333" stroke="#333" stroke-width="0.04">ns</text>
<line x1="450.47" y1="231.50" x2="456.87" y2="231.50" stroke="#111" stroke-width="0.9"/>
<text x="453.47" y="230.09" font-size="3.8" text-anchor="middle" fill="#333" stroke="#333" stroke-width="0.04">ns</text>
<line x1="463.40" y1="242.00" x2="469.80" y2="242.00" stroke="#111" stroke-width="0.9"/>
<text x="466.40" y="240.59" font-size="3.8" text-anchor="middle" fill="#333" stroke="#333" stroke-width="0.04">*</text>
<line x1="469.80" y1="247.70" x2="476.20" y2="247.70" stroke="#111" stroke-width="0.9"/>
<text x="472.80" y="246.29" font-size="3.8" text-anchor="middle" fill="#333" stroke="#333" stroke-width="0.04">**</text>
<line x1="372.30" y1="167.60" x2="379.00" y2="167.60" stroke="#cfcfcf" stroke-width="1.8"/>
<line x1="372.30" y1="176.20" x2="379.00" y2="176.20" stroke="#151515" stroke-width="1.8"/>
<line x1="372.30" y1="184.90" x2="379.00" y2="184.90" stroke="#33568b" stroke-width="1.8"/>
<text x="382.00" y="169.06" font-size="4.6" textLength="89.4" lengthAdjust="spacingAndGlyphs" fill="#222" stroke="#222" stroke-width="0.04">healthy-donor derived CD4<tspan font-size="2.8" dy="-1.6">+</tspan><tspan dy="1.6"> naïve T-cells (n=5)</tspan></text>
<text x="382.00" y="177.76" font-size="4.6" textLength="96" lengthAdjust="spacingAndGlyphs" fill="#222" stroke="#222" stroke-width="0.04">healthy-donor derived CD4<tspan font-size="2.8" dy="-1.6">+</tspan><tspan dy="1.6"> memory T-cells (n=5)</tspan></text>
<text x="382.00" y="186.36" font-size="4.6" textLength="48.8" lengthAdjust="spacingAndGlyphs" fill="#222" stroke="#222" stroke-width="0.04">primary T-PLL cells (n=10)</text>
<text transform="translate(221.40,212.20) rotate(-90)" x="0" y="2.21" font-size="6.5" text-anchor="middle" textLength="53.5" lengthAdjust="spacingAndGlyphs" stroke="#1a1a1a" stroke-width="0.06">Cytokine concentration</text>
<text transform="translate(230.20,215.50) rotate(-90)" x="0" y="2.21" font-size="6.5" text-anchor="middle" textLength="98.5" lengthAdjust="spacingAndGlyphs" stroke="#1a1a1a" stroke-width="0.06">(rel. to mean of unstim. healthy-donor</text>
<text transform="translate(239.00,216.00) rotate(-90)" x="0" y="2.21" font-size="6.5" text-anchor="middle" textLength="71.7" lengthAdjust="spacingAndGlyphs" stroke="#1a1a1a" stroke-width="0.06">derived CD4<tspan font-size="4" dy="-2.2">+</tspan><tspan dy="2.2"> naïve T-cells)</tspan></text>
<text x="75.20" y="305.90" font-size="12.0" textLength="7.6" lengthAdjust="spacingAndGlyphs" font-weight="bold" style="stroke:#000;stroke-width:0.55">D</text>
<text x="206.20" y="301.90" font-size="7.3" textLength="107.8" lengthAdjust="spacingAndGlyphs" stroke="#1a1a1a" stroke-width="0.2">TCR-induced cell cycle transition</text>
<line x1="104.00" y1="306.90" x2="417.00" y2="306.90" stroke="#383838" stroke-width="1.2"/>
<line x1="103.10" y1="326.40" x2="103.10" y2="409.10" stroke="#1a1a1a" stroke-width="0.9"/>
<line x1="100.90" y1="408.70" x2="103.10" y2="408.70" stroke="#1a1a1a" stroke-width="0.8"/>
<text x="97.80" y="410.50" font-size="5.3" text-anchor="end" stroke="#1a1a1a" stroke-width="0.1">0</text>
<line x1="100.90" y1="392.54" x2="103.10" y2="392.54" stroke="#1a1a1a" stroke-width="0.8"/>
<text x="97.80" y="394.34" font-size="5.3" text-anchor="end" stroke="#1a1a1a" stroke-width="0.1">20</text>
<line x1="100.90" y1="376.38" x2="103.10" y2="376.38" stroke="#1a1a1a" stroke-width="0.8"/>
<text x="97.80" y="378.18" font-size="5.3" text-anchor="end" stroke="#1a1a1a" stroke-width="0.1">40</text>
<line x1="100.90" y1="360.22" x2="103.10" y2="360.22" stroke="#1a1a1a" stroke-width="0.8"/>
<text x="97.80" y="362.02" font-size="5.3" text-anchor="end" stroke="#1a1a1a" stroke-width="0.1">60</text>
<line x1="100.90" y1="344.06" x2="103.10" y2="344.06" stroke="#1a1a1a" stroke-width="0.8"/>
<text x="97.80" y="345.86" font-size="5.3" text-anchor="end" stroke="#1a1a1a" stroke-width="0.1">80</text>
<line x1="100.90" y1="327.90" x2="103.10" y2="327.90" stroke="#1a1a1a" stroke-width="0.8"/>
<text x="97.80" y="329.70" font-size="5.3" text-anchor="end" stroke="#1a1a1a" stroke-width="0.1">100</text>
<line x1="103.10" y1="408.70" x2="204.60" y2="408.70" stroke="#1a1a1a" stroke-width="1.0"/>
<rect x="104.80" y="340.02" width="6.20" height="68.68" fill="#c9c8cd" />
<line x1="107.90" y1="338.40" x2="107.90" y2="341.64" stroke="#111" stroke-width="0.7"/>
<line x1="107.00" y1="338.40" x2="108.80" y2="338.40" stroke="#111" stroke-width="0.7"/>
<rect x="113.00" y="341.64" width="6.20" height="67.06" fill="#5ea3de" />
<line x1="116.10" y1="339.21" x2="116.10" y2="344.06" stroke="#111" stroke-width="0.7"/>
<line x1="115.20" y1="339.21" x2="117.00" y2="339.21" stroke="#111" stroke-width="0.7"/>
<rect x="121.20" y="340.83" width="6.20" height="67.87" fill="#253f74" />
<line x1="124.30" y1="338.81" x2="124.30" y2="342.85" stroke="#111" stroke-width="0.7"/>
<line x1="123.40" y1="338.81" x2="125.20" y2="338.81" stroke="#111" stroke-width="0.7"/>
<rect x="129.40" y="340.02" width="6.20" height="68.68" fill="#4a1d5e" />
<line x1="132.50" y1="338.00" x2="132.50" y2="342.04" stroke="#111" stroke-width="0.7"/>
<line x1="131.60" y1="338.00" x2="133.40" y2="338.00" stroke="#111" stroke-width="0.7"/>
<line x1="104.80" y1="411.30" x2="135.60" y2="411.30" stroke="#7a7a7a" stroke-width="1.3"/>
<text x="120.20" y="418.37" font-size="4.9" text-anchor="middle" stroke="#1a1a1a" stroke-width="0.04">G0/G1</text>
<rect x="137.80" y="407.89" width="6.20" height="0.81" fill="#c9c8cd" />
<line x1="140.90" y1="407.49" x2="140.90" y2="408.30" stroke="#111" stroke-width="0.7"/>
<line x1="140.00" y1="407.49" x2="141.80" y2="407.49" stroke="#111" stroke-width="0.7"/>
<rect x="146.00" y="406.28" width="6.20" height="2.42" fill="#5ea3de" />
<line x1="149.10" y1="405.47" x2="149.10" y2="407.08" stroke="#111" stroke-width="0.7"/>
<line x1="148.20" y1="405.47" x2="150.00" y2="405.47" stroke="#111" stroke-width="0.7"/>
<rect x="154.20" y="407.89" width="6.20" height="0.81" fill="#253f74" />
<line x1="157.30" y1="407.49" x2="157.30" y2="408.30" stroke="#111" stroke-width="0.7"/>
<line x1="156.40" y1="407.49" x2="158.20" y2="407.49" stroke="#111" stroke-width="0.7"/>
<rect x="162.40" y="406.28" width="6.20" height="2.42" fill="#4a1d5e" />
<line x1="165.50" y1="405.47" x2="165.50" y2="407.08" stroke="#111" stroke-width="0.7"/>
<line x1="164.60" y1="405.47" x2="166.40" y2="405.47" stroke="#111" stroke-width="0.7"/>
<line x1="137.80" y1="411.30" x2="168.60" y2="411.30" stroke="#7a7a7a" stroke-width="1.3"/>
<text x="153.20" y="418.37" font-size="4.9" text-anchor="middle" stroke="#1a1a1a" stroke-width="0.04">S</text>
<rect x="170.80" y="406.28" width="6.20" height="2.42" fill="#c9c8cd" />
<line x1="173.90" y1="404.66" x2="173.90" y2="407.89" stroke="#111" stroke-width="0.7"/>
<line x1="173.00" y1="404.66" x2="174.80" y2="404.66" stroke="#111" stroke-width="0.7"/>
<rect x="179.00" y="404.66" width="6.20" height="4.04" fill="#5ea3de" />
<line x1="182.10" y1="403.85" x2="182.10" y2="405.47" stroke="#111" stroke-width="0.7"/>
<line x1="181.20" y1="403.85" x2="183.00" y2="403.85" stroke="#111" stroke-width="0.7"/>
<rect x="187.20" y="404.66" width="6.20" height="4.04" fill="#253f74" />
<line x1="190.30" y1="403.85" x2="190.30" y2="405.47" stroke="#111" stroke-width="0.7"/>
<line x1="189.40" y1="403.85" x2="191.20" y2="403.85" stroke="#111" stroke-width="0.7"/>
<rect x="195.40" y="404.66" width="6.20" height="4.04" fill="#4a1d5e" />
<line x1="198.50" y1="403.85" x2="198.50" y2="405.47" stroke="#111" stroke-width="0.7"/>
<line x1="197.60" y1="403.85" x2="199.40" y2="403.85" stroke="#111" stroke-width="0.7"/>
<line x1="170.80" y1="411.30" x2="201.60" y2="411.30" stroke="#7a7a7a" stroke-width="1.3"/>
<text x="186.20" y="418.37" font-size="4.9" text-anchor="middle" stroke="#1a1a1a" stroke-width="0.04">G2/M</text>
<line x1="215.30" y1="325.70" x2="215.30" y2="408.90" stroke="#1a1a1a" stroke-width="0.9"/>
<line x1="213.10" y1="408.50" x2="215.30" y2="408.50" stroke="#1a1a1a" stroke-width="0.8"/>
<line x1="213.10" y1="392.24" x2="215.30" y2="392.24" stroke="#1a1a1a" stroke-width="0.8"/>
<line x1="213.10" y1="375.98" x2="215.30" y2="375.98" stroke="#1a1a1a" stroke-width="0.8"/>
<line x1="213.10" y1="359.72" x2="215.30" y2="359.72" stroke="#1a1a1a" stroke-width="0.8"/>
<line x1="213.10" y1="343.46" x2="215.30" y2="343.46" stroke="#1a1a1a" stroke-width="0.8"/>
<line x1="213.10" y1="327.20" x2="215.30" y2="327.20" stroke="#1a1a1a" stroke-width="0.8"/>
<line x1="215.30" y1="408.50" x2="319.10" y2="408.50" stroke="#1a1a1a" stroke-width="1.0"/>
<rect x="219.20" y="351.59" width="6.20" height="56.91" fill="#c9c8cd" />
<line x1="222.30" y1="349.15" x2="222.30" y2="354.03" stroke="#111" stroke-width="0.7"/>
<line x1="221.40" y1="349.15" x2="223.20" y2="349.15" stroke="#111" stroke-width="0.7"/>
<rect x="227.40" y="353.22" width="6.20" height="55.28" fill="#5ea3de" />
<line x1="230.50" y1="345.09" x2="230.50" y2="361.35" stroke="#111" stroke-width="0.7"/>
<line x1="229.60" y1="345.09" x2="231.40" y2="345.09" stroke="#111" stroke-width="0.7"/>
<rect x="235.60" y="347.52" width="6.20" height="60.98" fill="#253f74" />
<line x1="238.70" y1="342.65" x2="238.70" y2="352.40" stroke="#111" stroke-width="0.7"/>
<line x1="237.80" y1="342.65" x2="239.60" y2="342.65" stroke="#111" stroke-width="0.7"/>
<rect x="243.80" y="353.22" width="6.20" height="55.28" fill="#4a1d5e" />
<line x1="246.90" y1="347.52" x2="246.90" y2="358.91" stroke="#111" stroke-width="0.7"/>
<line x1="246.00" y1="347.52" x2="247.80" y2="347.52" stroke="#111" stroke-width="0.7"/>
<line x1="219.20" y1="411.10" x2="250.00" y2="411.10" stroke="#7a7a7a" stroke-width="1.3"/>
<text x="234.60" y="418.17" font-size="4.9" text-anchor="middle" stroke="#1a1a1a" stroke-width="0.04">G0/G1</text>
<rect x="252.20" y="405.25" width="6.20" height="3.25" fill="#c9c8cd" />
<line x1="255.30" y1="403.62" x2="255.30" y2="406.87" stroke="#111" stroke-width="0.7"/>
<line x1="254.40" y1="403.62" x2="256.20" y2="403.62" stroke="#111" stroke-width="0.7"/>
<rect x="260.40" y="404.44" width="6.20" height="4.07" fill="#5ea3de" />
<line x1="263.50" y1="402.81" x2="263.50" y2="406.06" stroke="#111" stroke-width="0.7"/>
<line x1="262.60" y1="402.81" x2="264.40" y2="402.81" stroke="#111" stroke-width="0.7"/>
<rect x="268.60" y="405.25" width="6.20" height="3.25" fill="#253f74" />
<line x1="271.70" y1="404.44" x2="271.70" y2="406.06" stroke="#111" stroke-width="0.7"/>
<line x1="270.80" y1="404.44" x2="272.60" y2="404.44" stroke="#111" stroke-width="0.7"/>
<rect x="276.80" y="404.44" width="6.20" height="4.07" fill="#4a1d5e" />
<line x1="279.90" y1="403.22" x2="279.90" y2="405.65" stroke="#111" stroke-width="0.7"/>
<line x1="279.00" y1="403.22" x2="280.80" y2="403.22" stroke="#111" stroke-width="0.7"/>
<line x1="252.20" y1="411.10" x2="283.00" y2="411.10" stroke="#7a7a7a" stroke-width="1.3"/>
<text x="267.60" y="418.17" font-size="4.9" text-anchor="middle" stroke="#1a1a1a" stroke-width="0.04">S</text>
<rect x="285.30" y="407.93" width="6.20" height="0.57" fill="#c9c8cd" />
<rect x="293.50" y="407.93" width="6.20" height="0.57" fill="#5ea3de" />
<rect x="301.70" y="407.93" width="6.20" height="0.57" fill="#253f74" />
<rect x="309.90" y="407.93" width="6.20" height="0.57" fill="#4a1d5e" />
<line x1="285.30" y1="411.10" x2="316.10" y2="411.10" stroke="#7a7a7a" stroke-width="1.3"/>
<text x="300.70" y="418.17" font-size="4.9" text-anchor="middle" stroke="#1a1a1a" stroke-width="0.04">G2/M</text>
<line x1="330.00" y1="324.80" x2="330.00" y2="408.40" stroke="#1a1a1a" stroke-width="0.9"/>
<line x1="327.80" y1="408.00" x2="330.00" y2="408.00" stroke="#1a1a1a" stroke-width="0.8"/>
<line x1="327.80" y1="391.66" x2="330.00" y2="391.66" stroke="#1a1a1a" stroke-width="0.8"/>
<line x1="327.80" y1="375.32" x2="330.00" y2="375.32" stroke="#1a1a1a" stroke-width="0.8"/>
<line x1="327.80" y1="358.98" x2="330.00" y2="358.98" stroke="#1a1a1a" stroke-width="0.8"/>
<line x1="327.80" y1="342.64" x2="330.00" y2="342.64" stroke="#1a1a1a" stroke-width="0.8"/>
<line x1="327.80" y1="326.30" x2="330.00" y2="326.30" stroke="#1a1a1a" stroke-width="0.8"/>
<line x1="330.00" y1="408.00" x2="433.50" y2="408.00" stroke="#1a1a1a" stroke-width="1.0"/>
<rect x="333.80" y="338.56" width="6.20" height="69.44" fill="#c9c8cd" />
<line x1="336.90" y1="336.92" x2="336.90" y2="340.19" stroke="#111" stroke-width="0.7"/>
<line x1="336.00" y1="336.92" x2="337.80" y2="336.92" stroke="#111" stroke-width="0.7"/>
<rect x="341.90" y="352.44" width="6.20" height="55.56" fill="#5ea3de" />
<line x1="345.00" y1="346.73" x2="345.00" y2="358.16" stroke="#111" stroke-width="0.7"/>
<line x1="344.10" y1="346.73" x2="345.90" y2="346.73" stroke="#111" stroke-width="0.7"/>
<rect x="350.00" y="348.36" width="6.20" height="59.64" fill="#253f74" />
<line x1="353.10" y1="344.27" x2="353.10" y2="352.44" stroke="#111" stroke-width="0.7"/>
<line x1="352.20" y1="344.27" x2="354.00" y2="344.27" stroke="#111" stroke-width="0.7"/>
<rect x="358.10" y="361.43" width="6.20" height="46.57" fill="#4a1d5e" />
<line x1="361.20" y1="353.26" x2="361.20" y2="369.60" stroke="#111" stroke-width="0.7"/>
<line x1="360.30" y1="353.26" x2="362.10" y2="353.26" stroke="#111" stroke-width="0.7"/>
<line x1="333.80" y1="410.60" x2="364.30" y2="410.60" stroke="#7a7a7a" stroke-width="1.3"/>
<text x="349.05" y="417.67" font-size="4.9" text-anchor="middle" stroke="#1a1a1a" stroke-width="0.04">G0/G1</text>
<rect x="367.00" y="405.55" width="6.20" height="2.45" fill="#c9c8cd" />
<line x1="370.10" y1="403.10" x2="370.10" y2="408.00" stroke="#111" stroke-width="0.7"/>
<line x1="369.20" y1="403.10" x2="371.00" y2="403.10" stroke="#111" stroke-width="0.7"/>
<rect x="375.10" y="397.38" width="6.20" height="10.62" fill="#5ea3de" />
<line x1="378.20" y1="395.75" x2="378.20" y2="399.01" stroke="#111" stroke-width="0.7"/>
<line x1="377.30" y1="395.75" x2="379.10" y2="395.75" stroke="#111" stroke-width="0.7"/>
<rect x="383.20" y="398.20" width="6.20" height="9.80" fill="#253f74" />
<line x1="386.30" y1="395.75" x2="386.30" y2="400.65" stroke="#111" stroke-width="0.7"/>
<line x1="385.40" y1="395.75" x2="387.20" y2="395.75" stroke="#111" stroke-width="0.7"/>
<rect x="391.30" y="391.66" width="6.20" height="16.34" fill="#4a1d5e" />
<line x1="394.40" y1="387.57" x2="394.40" y2="395.75" stroke="#111" stroke-width="0.7"/>
<line x1="393.50" y1="387.57" x2="395.30" y2="387.57" stroke="#111" stroke-width="0.7"/>
<line x1="367.00" y1="410.60" x2="397.50" y2="410.60" stroke="#7a7a7a" stroke-width="1.3"/>
<text x="382.25" y="417.67" font-size="4.9" text-anchor="middle" stroke="#1a1a1a" stroke-width="0.04">S</text>
<rect x="400.00" y="406.37" width="6.20" height="1.63" fill="#c9c8cd" />
<line x1="403.10" y1="405.14" x2="403.10" y2="407.59" stroke="#111" stroke-width="0.7"/>
<line x1="402.20" y1="405.14" x2="404.00" y2="405.14" stroke="#111" stroke-width="0.7"/>
<rect x="408.10" y="399.01" width="6.20" height="8.99" fill="#5ea3de" />
<line x1="411.20" y1="394.11" x2="411.20" y2="403.92" stroke="#111" stroke-width="0.7"/>
<line x1="410.30" y1="394.11" x2="412.10" y2="394.11" stroke="#111" stroke-width="0.7"/>
<rect x="416.20" y="400.65" width="6.20" height="7.35" fill="#253f74" />
<line x1="419.30" y1="397.38" x2="419.30" y2="403.92" stroke="#111" stroke-width="0.7"/>
<line x1="418.40" y1="397.38" x2="420.20" y2="397.38" stroke="#111" stroke-width="0.7"/>
<rect x="424.30" y="394.11" width="6.20" height="13.89" fill="#4a1d5e" />
<line x1="427.40" y1="387.57" x2="427.40" y2="400.65" stroke="#111" stroke-width="0.7"/>
<line x1="426.50" y1="387.57" x2="428.30" y2="387.57" stroke="#111" stroke-width="0.7"/>
<line x1="400.00" y1="410.60" x2="430.50" y2="410.60" stroke="#7a7a7a" stroke-width="1.3"/>
<text x="415.25" y="417.67" font-size="4.9" text-anchor="middle" stroke="#1a1a1a" stroke-width="0.04">G2/M</text>
<text transform="translate(79.60,366.50) rotate(-90)" x="0" y="3.40" font-size="10" text-anchor="middle" textLength="28" lengthAdjust="spacingAndGlyphs" stroke="#1a1a1a" stroke-width="0.07">Cells [%]</text>
<text x="153.80" y="314.60" font-size="4.7" text-anchor="middle" textLength="32.5" lengthAdjust="spacingAndGlyphs" stroke="#1a1a1a" stroke-width="0.04">healthy-donor</text>
<text x="153.80" y="320.80" font-size="4.7" text-anchor="middle" textLength="38.5" lengthAdjust="spacingAndGlyphs" stroke="#1a1a1a" stroke-width="0.04">pan T-cells (n=4)</text>
<text x="268.30" y="313.60" font-size="4.7" text-anchor="middle" textLength="32.3" lengthAdjust="spacingAndGlyphs" stroke="#1a1a1a" stroke-width="0.04">healthy-donor</text>
<text x="268.00" y="320.60" font-size="4.7" text-anchor="middle" textLength="64" lengthAdjust="spacingAndGlyphs" stroke="#1a1a1a" stroke-width="0.04">CD4<tspan font-size="3" dy="-1.8">+</tspan><tspan dy="1.8"> memory T-cells (n=5)</tspan></text>
<text x="383.70" y="320.40" font-size="4.7" text-anchor="middle" textLength="27.5" lengthAdjust="spacingAndGlyphs" stroke="#1a1a1a" stroke-width="0.04">T-PLL (n=5)</text>
<rect x="143.50" y="345.20" width="7.50" height="6.90" fill="#c9c8cd" />
<text x="154.10" y="350.67" font-size="5.8" textLength="30.7" lengthAdjust="spacingAndGlyphs" fill="#111" stroke="#111" stroke-width="0.1">unstimulated</text>
<rect x="143.50" y="355.80" width="7.50" height="6.90" fill="#5ea3de" />
<text x="154.10" y="361.27" font-size="5.8" textLength="20.5" lengthAdjust="spacingAndGlyphs" fill="#111" stroke="#111" stroke-width="0.1">anti-CD3</text>
<rect x="143.50" y="366.30" width="7.50" height="6.90" fill="#253f74" />
<text x="154.10" y="371.77" font-size="5.8" textLength="24" lengthAdjust="spacingAndGlyphs" fill="#111" stroke="#111" stroke-width="0.1">anti-CD28</text>
<rect x="143.50" y="377.00" width="7.50" height="6.90" fill="#4a1d5e" />
<text x="154.10" y="382.47" font-size="5.8" textLength="36.7" lengthAdjust="spacingAndGlyphs" fill="#111" stroke="#111" stroke-width="0.1">anti-CD3/CD28</text>
<line x1="336.30" y1="333.80" x2="361.30" y2="333.80" stroke="#555" stroke-width="0.9"/>
<text x="348.80" y="332.30" font-size="5.0" text-anchor="middle" textLength="20" lengthAdjust="spacingAndGlyphs" stroke="#1a1a1a" stroke-width="0.1">P=0.022</text>
<line x1="369.50" y1="385.00" x2="394.50" y2="385.00" stroke="#555" stroke-width="0.9"/>
<text x="382.00" y="383.10" font-size="5.0" text-anchor="middle" textLength="20" lengthAdjust="spacingAndGlyphs" stroke="#1a1a1a" stroke-width="0.1">P=0.045</text>
<text x="75.00" y="438.90" font-size="12.0" textLength="7.1" lengthAdjust="spacingAndGlyphs" font-weight="bold" style="stroke:#000;stroke-width:0.55">E</text>
<text x="149.60" y="437.60" font-size="7.3" textLength="229.7" lengthAdjust="spacingAndGlyphs" stroke="#1a1a1a" stroke-width="0.2">TCR-induced ERK1/2 phospho-activation in murine CD3<tspan font-size="4.5" dy="-2.6">+</tspan><tspan dy="2.6"> splenocytes</tspan></text>
<line x1="120.00" y1="442.60" x2="408.00" y2="442.60" stroke="#383838" stroke-width="1.2"/>
<defs><filter id="bl" x="-30%" y="-80%" width="160%" height="260%"><feGaussianBlur stdDeviation="0.45"/></filter></defs>
<text x="156.50" y="460.26" font-size="8.4" textLength="43.1" lengthAdjust="spacingAndGlyphs" stroke="#1a1a1a" stroke-width="0.2">pre-leukemic</text>
<text x="140.40" y="472.30" font-size="4.7" text-anchor="middle" textLength="39.5" lengthAdjust="spacingAndGlyphs" fill="#222" stroke="#222" stroke-width="0.04">CD3<tspan font-size="2.9" dy="-1.7">+</tspan><tspan dy="1.7"> splenocytes of</tspan></text>
<text x="140.40" y="477.50" font-size="4.7" text-anchor="middle" textLength="55.5" lengthAdjust="spacingAndGlyphs" fill="#222" stroke="#222" stroke-width="0.04">10 weeks old C57BL/6J mice</text>
<line x1="112.00" y1="483.10" x2="169.20" y2="483.10" stroke="#5a5a5a" stroke-width="1.3"/>
<text x="215.50" y="472.30" font-size="4.7" text-anchor="middle" textLength="61.5" lengthAdjust="spacingAndGlyphs" fill="#222" stroke="#222" stroke-width="0.04">CD3<tspan font-size="2.9" dy="-1.7">+</tspan><tspan dy="1.7"> splenocytes of 10 weeks old</tspan></text>
<text x="215.50" y="477.50" font-size="4.7" text-anchor="middle" textLength="65.7" lengthAdjust="spacingAndGlyphs" fill="#222" stroke="#222" stroke-width="0.04">pre-leukemic <tspan font-style="italic">Lck</tspan><tspan font-size="2.9" dy="-1.7">pr</tspan><tspan dy="1.7">-hTCL1A<tspan font-size="2.9" dy="-1.7">tg</tspan><tspan dy="1.7"> mice</tspan></tspan></text>
<line x1="187.00" y1="483.10" x2="244.60" y2="483.10" stroke="#5a5a5a" stroke-width="1.3"/>
<text transform="translate(121.30,494.60) rotate(-45)" font-size="4.4" fill="#222" stroke="#222" stroke-width="0.05">0 min</text>
<text x="121.00" y="499.33" font-size="4.8" text-anchor="middle" stroke="#1a1a1a" stroke-width="0.04">-</text>
<text transform="translate(130.70,494.60) rotate(-45)" font-size="4.4" fill="#222" stroke="#222" stroke-width="0.05">5 min</text>
<text x="130.40" y="499.33" font-size="4.8" text-anchor="middle" stroke="#1a1a1a" stroke-width="0.04">+</text>
<text transform="translate(140.30,494.60) rotate(-45)" font-size="4.4" fill="#222" stroke="#222" stroke-width="0.05">10 min</text>
<text x="140.00" y="499.33" font-size="4.8" text-anchor="middle" stroke="#1a1a1a" stroke-width="0.04">+</text>
<text transform="translate(149.60,494.60) rotate(-45)" font-size="4.4" fill="#222" stroke="#222" stroke-width="0.05">30 min</text>
<text x="149.30" y="499.33" font-size="4.8" text-anchor="middle" stroke="#1a1a1a" stroke-width="0.04">+</text>
<text transform="translate(159.10,494.60) rotate(-45)" font-size="4.4" fill="#222" stroke="#222" stroke-width="0.05">1 h</text>
<text x="158.80" y="499.33" font-size="4.8" text-anchor="middle" stroke="#1a1a1a" stroke-width="0.04">+</text>
<text transform="translate(168.30,494.60) rotate(-45)" font-size="4.4" fill="#222" stroke="#222" stroke-width="0.05">2 h</text>
<text x="168.00" y="499.33" font-size="4.8" text-anchor="middle" stroke="#1a1a1a" stroke-width="0.04">+</text>
<text transform="translate(187.30,494.60) rotate(-45)" font-size="4.4" fill="#222" stroke="#222" stroke-width="0.05">0 min</text>
<text x="187.00" y="499.33" font-size="4.8" text-anchor="middle" stroke="#1a1a1a" stroke-width="0.04">-</text>
<text transform="translate(196.80,494.60) rotate(-45)" font-size="4.4" fill="#222" stroke="#222" stroke-width="0.05">5 min</text>
<text x="196.50" y="499.33" font-size="4.8" text-anchor="middle" stroke="#1a1a1a" stroke-width="0.04">+</text>
<text transform="translate(206.30,494.60) rotate(-45)" font-size="4.4" fill="#222" stroke="#222" stroke-width="0.05">10 min</text>
<text x="206.00" y="499.33" font-size="4.8" text-anchor="middle" stroke="#1a1a1a" stroke-width="0.04">+</text>
<text transform="translate(216.30,494.60) rotate(-45)" font-size="4.4" fill="#222" stroke="#222" stroke-width="0.05">30 min</text>
<text x="216.00" y="499.33" font-size="4.8" text-anchor="middle" stroke="#1a1a1a" stroke-width="0.04">+</text>
<text transform="translate(226.30,494.60) rotate(-45)" font-size="4.4" fill="#222" stroke="#222" stroke-width="0.05">1 h</text>
<text x="226.00" y="499.33" font-size="4.8" text-anchor="middle" stroke="#1a1a1a" stroke-width="0.04">+</text>
<text transform="translate(236.60,494.60) rotate(-45)" font-size="4.4" fill="#222" stroke="#222" stroke-width="0.05">2 h</text>
<text x="236.30" y="499.33" font-size="4.8" text-anchor="middle" stroke="#1a1a1a" stroke-width="0.04">+</text>
<text x="245.00" y="498.76" font-size="4.6" textLength="29" lengthAdjust="spacingAndGlyphs" fill="#222" style="font-style:italic" stroke="#222" stroke-width="0.04">anti-CD3/CD28</text>
<rect x="113.40" y="500.00" width="130.40" height="12.20" fill="#d3dcf2" stroke="#111" stroke-width="1.1"/>
<text x="245.20" y="507.66" font-size="4.6" textLength="21.5" lengthAdjust="spacingAndGlyphs" fill="#222" style="font-style:italic" stroke="#222" stroke-width="0.04">44 / 42 kDa</text>
<ellipse cx="130.40" cy="506.50" rx="3.9" ry="1.1" fill="#0a0f25" opacity="1.00" filter="url(#bl)"/>
<ellipse cx="130.40" cy="504.40" rx="3.5" ry="0.75" fill="#0a0f25" opacity="0.35" filter="url(#bl)"/>
<ellipse cx="140.00" cy="506.50" rx="3.9" ry="1.1" fill="#0a0f25" opacity="0.90" filter="url(#bl)"/>
<ellipse cx="140.00" cy="504.40" rx="3.5" ry="0.75" fill="#0a0f25" opacity="0.35" filter="url(#bl)"/>
<ellipse cx="149.30" cy="506.50" rx="3.9" ry="1.1" fill="#0a0f25" opacity="0.95" filter="url(#bl)"/>
<ellipse cx="149.30" cy="504.40" rx="3.5" ry="0.75" fill="#0a0f25" opacity="0.35" filter="url(#bl)"/>
<ellipse cx="158.80" cy="506.50" rx="3.9" ry="0.8" fill="#0a0f25" opacity="0.30" filter="url(#bl)"/>
<ellipse cx="168.00" cy="506.50" rx="3.9" ry="0.8" fill="#0a0f25" opacity="0.35" filter="url(#bl)"/>
<ellipse cx="206.00" cy="506.50" rx="3.9" ry="1.2" fill="#0a0f25" opacity="0.90" filter="url(#bl)"/>
<ellipse cx="206.00" cy="504.40" rx="3.5" ry="0.75" fill="#0a0f25" opacity="0.45" filter="url(#bl)"/>
<ellipse cx="216.00" cy="506.50" rx="3.9" ry="1.2" fill="#0a0f25" opacity="0.90" filter="url(#bl)"/>
<ellipse cx="216.00" cy="504.40" rx="3.5" ry="0.75" fill="#0a0f25" opacity="0.45" filter="url(#bl)"/>
<ellipse cx="226.00" cy="506.50" rx="3.9" ry="1.2" fill="#0a0f25" opacity="0.90" filter="url(#bl)"/>
<ellipse cx="226.00" cy="504.40" rx="3.5" ry="0.75" fill="#0a0f25" opacity="0.45" filter="url(#bl)"/>
<ellipse cx="236.30" cy="506.50" rx="3.9" ry="1.0" fill="#0a0f25" opacity="0.75" filter="url(#bl)"/>
<ellipse cx="236.30" cy="504.40" rx="3.5" ry="0.75" fill="#0a0f25" opacity="0.30" filter="url(#bl)"/>
<rect x="113.40" y="517.30" width="130.40" height="11.90" fill="#d3dcf2" stroke="#111" stroke-width="1.1"/>
<text x="245.20" y="524.81" font-size="4.6" textLength="21.5" lengthAdjust="spacingAndGlyphs" fill="#222" style="font-style:italic" stroke="#222" stroke-width="0.04">44 / 42 kDa</text>
<ellipse cx="121.00" cy="523.75" rx="3.9" ry="1.3" fill="#0a0f25" opacity="0.85" filter="url(#bl)"/>
<ellipse cx="130.40" cy="523.75" rx="3.9" ry="1.3" fill="#0a0f25" opacity="0.85" filter="url(#bl)"/>
<ellipse cx="140.00" cy="523.75" rx="3.9" ry="1.3" fill="#0a0f25" opacity="0.85" filter="url(#bl)"/>
<ellipse cx="149.30" cy="523.75" rx="3.9" ry="1.3" fill="#0a0f25" opacity="0.85" filter="url(#bl)"/>
<ellipse cx="158.80" cy="523.75" rx="3.9" ry="1.3" fill="#0a0f25" opacity="0.85" filter="url(#bl)"/>
<ellipse cx="168.00" cy="523.75" rx="3.9" ry="1.3" fill="#0a0f25" opacity="0.85" filter="url(#bl)"/>
<ellipse cx="187.00" cy="523.75" rx="3.9" ry="1.3" fill="#0a0f25" opacity="0.95" filter="url(#bl)"/>
<ellipse cx="196.50" cy="523.75" rx="3.9" ry="1.3" fill="#0a0f25" opacity="0.85" filter="url(#bl)"/>
<ellipse cx="206.00" cy="523.75" rx="3.9" ry="1.3" fill="#0a0f25" opacity="0.90" filter="url(#bl)"/>
<ellipse cx="206.00" cy="521.65" rx="3.5" ry="0.75" fill="#0a0f25" opacity="0.40" filter="url(#bl)"/>
<ellipse cx="216.00" cy="523.75" rx="3.9" ry="1.3" fill="#0a0f25" opacity="0.85" filter="url(#bl)"/>
<ellipse cx="226.00" cy="523.75" rx="3.9" ry="1.3" fill="#0a0f25" opacity="0.80" filter="url(#bl)"/>
<ellipse cx="236.30" cy="523.75" rx="3.9" ry="1.3" fill="#0a0f25" opacity="0.95" filter="url(#bl)"/>
<rect x="113.40" y="534.50" width="130.40" height="11.90" fill="#d3dcf2" stroke="#111" stroke-width="1.1"/>
<text x="245.20" y="542.01" font-size="4.6" textLength="12.5" lengthAdjust="spacingAndGlyphs" fill="#222" style="font-style:italic" stroke="#222" stroke-width="0.04">14 kDa</text>
<ellipse cx="187.00" cy="539.95" rx="3.9" ry="0.9" fill="#0a0f25" opacity="0.35" filter="url(#bl)"/>
<ellipse cx="196.50" cy="539.95" rx="3.9" ry="0.9" fill="#0a0f25" opacity="0.35" filter="url(#bl)"/>
<ellipse cx="206.00" cy="539.95" rx="3.9" ry="0.9" fill="#0a0f25" opacity="0.35" filter="url(#bl)"/>
<ellipse cx="216.00" cy="539.95" rx="3.9" ry="0.9" fill="#0a0f25" opacity="0.35" filter="url(#bl)"/>
<ellipse cx="226.00" cy="539.95" rx="3.9" ry="0.9" fill="#0a0f25" opacity="0.35" filter="url(#bl)"/>
<ellipse cx="236.30" cy="539.95" rx="3.9" ry="0.9" fill="#0a0f25" opacity="0.35" filter="url(#bl)"/>
<rect x="113.40" y="552.30" width="130.40" height="11.90" fill="#d3dcf2" stroke="#111" stroke-width="1.1"/>
<text x="245.20" y="559.81" font-size="4.6" textLength="12.5" lengthAdjust="spacingAndGlyphs" fill="#222" style="font-style:italic" stroke="#222" stroke-width="0.04">42 kDa</text>
<ellipse cx="121.00" cy="558.85" rx="3.9" ry="1.45" fill="#0a0f25" opacity="1.00" filter="url(#bl)"/>
<ellipse cx="130.40" cy="558.85" rx="3.9" ry="1.45" fill="#0a0f25" opacity="1.00" filter="url(#bl)"/>
<ellipse cx="140.00" cy="558.85" rx="3.9" ry="1.45" fill="#0a0f25" opacity="1.00" filter="url(#bl)"/>
<ellipse cx="149.30" cy="558.85" rx="3.9" ry="1.45" fill="#0a0f25" opacity="1.00" filter="url(#bl)"/>
<ellipse cx="158.80" cy="558.85" rx="3.9" ry="1.45" fill="#0a0f25" opacity="1.00" filter="url(#bl)"/>
<ellipse cx="168.00" cy="558.85" rx="3.9" ry="1.45" fill="#0a0f25" opacity="1.00" filter="url(#bl)"/>
<ellipse cx="187.00" cy="558.85" rx="3.9" ry="1.45" fill="#0a0f25" opacity="1.00" filter="url(#bl)"/>
<ellipse cx="196.50" cy="558.85" rx="3.9" ry="1.45" fill="#0a0f25" opacity="1.00" filter="url(#bl)"/>
<ellipse cx="206.00" cy="558.85" rx="3.9" ry="1.45" fill="#0a0f25" opacity="1.00" filter="url(#bl)"/>
<ellipse cx="216.00" cy="558.85" rx="3.9" ry="1.45" fill="#0a0f25" opacity="1.00" filter="url(#bl)"/>
<ellipse cx="226.00" cy="558.85" rx="3.9" ry="1.45" fill="#0a0f25" opacity="1.00" filter="url(#bl)"/>
<ellipse cx="236.30" cy="558.85" rx="3.9" ry="1.45" fill="#0a0f25" opacity="1.00" filter="url(#bl)"/>
<text x="121.00" y="516.43" font-size="4.5" text-anchor="middle" fill="#222" stroke="#222" stroke-width="0.04">1.0</text>
<text x="130.40" y="516.43" font-size="4.5" text-anchor="middle" fill="#222" stroke="#222" stroke-width="0.04">11.1</text>
<text x="140.00" y="516.43" font-size="4.5" text-anchor="middle" fill="#222" stroke="#222" stroke-width="0.04">10.6</text>
<text x="149.30" y="516.43" font-size="4.5" text-anchor="middle" fill="#222" stroke="#222" stroke-width="0.04">9.0</text>
<text x="158.80" y="516.43" font-size="4.5" text-anchor="middle" fill="#222" stroke="#222" stroke-width="0.04">2.0</text>
<text x="168.00" y="516.43" font-size="4.5" text-anchor="middle" fill="#222" stroke="#222" stroke-width="0.04">2.8</text>
<text x="187.00" y="516.43" font-size="4.5" text-anchor="middle" fill="#222" stroke="#222" stroke-width="0.04">0.7</text>
<text x="196.50" y="516.43" font-size="4.5" text-anchor="middle" fill="#222" stroke="#222" stroke-width="0.04">0.4</text>
<text x="206.00" y="516.43" font-size="4.5" text-anchor="middle" fill="#222" stroke="#222" stroke-width="0.04">4.8</text>
<text x="216.00" y="516.43" font-size="4.5" text-anchor="middle" fill="#222" stroke="#222" stroke-width="0.04">5.0</text>
<text x="226.00" y="516.43" font-size="4.5" text-anchor="middle" fill="#222" stroke="#222" stroke-width="0.04">5.4</text>
<text x="236.30" y="516.43" font-size="4.5" text-anchor="middle" fill="#222" stroke="#222" stroke-width="0.04">3.6</text>
<text x="121.00" y="533.93" font-size="4.5" text-anchor="middle" fill="#222" stroke="#222" stroke-width="0.04">1.0</text>
<text x="130.40" y="533.93" font-size="4.5" text-anchor="middle" fill="#222" stroke="#222" stroke-width="0.04">1.5</text>
<text x="140.00" y="533.93" font-size="4.5" text-anchor="middle" fill="#222" stroke="#222" stroke-width="0.04">1.5</text>
<text x="149.30" y="533.93" font-size="4.5" text-anchor="middle" fill="#222" stroke="#222" stroke-width="0.04">1.4</text>
<text x="158.80" y="533.93" font-size="4.5" text-anchor="middle" fill="#222" stroke="#222" stroke-width="0.04">1.3</text>
<text x="168.00" y="533.93" font-size="4.5" text-anchor="middle" fill="#222" stroke="#222" stroke-width="0.04">1.0</text>
<text x="187.00" y="533.93" font-size="4.5" text-anchor="middle" fill="#222" stroke="#222" stroke-width="0.04">1.5</text>
<text x="196.50" y="533.93" font-size="4.5" text-anchor="middle" fill="#222" stroke="#222" stroke-width="0.04">1.4</text>
<text x="206.00" y="533.93" font-size="4.5" text-anchor="middle" fill="#222" stroke="#222" stroke-width="0.04">1.5</text>
<text x="216.00" y="533.93" font-size="4.5" text-anchor="middle" fill="#222" stroke="#222" stroke-width="0.04">1.4</text>
<text x="226.00" y="533.93" font-size="4.5" text-anchor="middle" fill="#222" stroke="#222" stroke-width="0.04">1.4</text>
<text x="236.30" y="533.93" font-size="4.5" text-anchor="middle" fill="#222" stroke="#222" stroke-width="0.04">1.5</text>
<text x="121.00" y="550.83" font-size="4.5" text-anchor="middle" fill="#222" stroke="#222" stroke-width="0.04">1.0</text>
<text x="130.40" y="550.83" font-size="4.5" text-anchor="middle" fill="#222" stroke="#222" stroke-width="0.04">1.3</text>
<text x="140.00" y="550.83" font-size="4.5" text-anchor="middle" fill="#222" stroke="#222" stroke-width="0.04">1.2</text>
<text x="149.30" y="550.83" font-size="4.5" text-anchor="middle" fill="#222" stroke="#222" stroke-width="0.04">0.9</text>
<text x="158.80" y="550.83" font-size="4.5" text-anchor="middle" fill="#222" stroke="#222" stroke-width="0.04">0.9</text>
<text x="168.00" y="550.83" font-size="4.5" text-anchor="middle" fill="#222" stroke="#222" stroke-width="0.04">1.2</text>
<text x="187.00" y="550.83" font-size="4.5" text-anchor="middle" fill="#222" stroke="#222" stroke-width="0.04">2.7</text>
<text x="196.50" y="550.83" font-size="4.5" text-anchor="middle" fill="#222" stroke="#222" stroke-width="0.04">2.0</text>
<text x="206.00" y="550.83" font-size="4.5" text-anchor="middle" fill="#222" stroke="#222" stroke-width="0.04">2.8</text>
<text x="216.00" y="550.83" font-size="4.5" text-anchor="middle" fill="#222" stroke="#222" stroke-width="0.04">1.5</text>
<text x="226.00" y="550.83" font-size="4.5" text-anchor="middle" fill="#222" stroke="#222" stroke-width="0.04">2.0</text>
<text x="236.30" y="550.83" font-size="4.5" text-anchor="middle" fill="#222" stroke="#222" stroke-width="0.04">2.1</text>
<text x="95.20" y="510.60" font-size="6.7" text-anchor="end" textLength="20.7" lengthAdjust="spacingAndGlyphs" fill="#333" stroke="#333" stroke-width="0.1">pERK1/2</text>
<text x="95.70" y="505.60" font-size="3.4" textLength="15.6" lengthAdjust="spacingAndGlyphs" fill="#333" stroke="#333" stroke-width="0.04">Tyr202/204</text>
<text x="111.30" y="525.76" font-size="6.8" text-anchor="end" textLength="17" lengthAdjust="spacingAndGlyphs" fill="#333" stroke="#333" stroke-width="0.2">ERK1/2</text>
<text x="111.30" y="542.96" font-size="6.8" text-anchor="end" textLength="16.1" lengthAdjust="spacingAndGlyphs" fill="#333" stroke="#333" stroke-width="0.2">TCL1A</text>
<text x="111.30" y="560.76" font-size="6.8" text-anchor="end" textLength="16.1" lengthAdjust="spacingAndGlyphs" fill="#333" stroke="#333" stroke-width="0.2">β actin</text>
<text x="163.50" y="583.46" font-size="8.4" textLength="30.7" lengthAdjust="spacingAndGlyphs" stroke="#1a1a1a" stroke-width="0.2">leukemic</text>
<text x="145.50" y="595.50" font-size="4.7" text-anchor="middle" textLength="39.5" lengthAdjust="spacingAndGlyphs" fill="#222" stroke="#222" stroke-width="0.04">CD3<tspan font-size="2.9" dy="-1.7">+</tspan><tspan dy="1.7"> splenocytes of</tspan></text>
<text x="145.50" y="600.70" font-size="4.7" text-anchor="middle" textLength="55" lengthAdjust="spacingAndGlyphs" fill="#222" stroke="#222" stroke-width="0.04">50 weeks old C57BL/6J mice</text>
<line x1="117.30" y1="606.30" x2="173.90" y2="606.30" stroke="#5a5a5a" stroke-width="1.3"/>
<text x="214.60" y="595.50" font-size="4.7" text-anchor="middle" textLength="49.2" lengthAdjust="spacingAndGlyphs" fill="#222" stroke="#222" stroke-width="0.04">splenocytes of a leukemic</text>
<text x="214.60" y="600.70" font-size="4.7" text-anchor="middle" textLength="43.2" lengthAdjust="spacingAndGlyphs" fill="#222" stroke="#222" stroke-width="0.04"><tspan font-style="italic">Lck</tspan><tspan font-size="2.9" dy="-1.7">pr</tspan><tspan dy="1.7">-hTCL1A<tspan font-size="2.9" dy="-1.7">tg</tspan><tspan dy="1.7"> mouse</tspan></tspan></text>
<line x1="186.20" y1="606.30" x2="242.60" y2="606.30" stroke="#5a5a5a" stroke-width="1.3"/>
<text transform="translate(122.30,617.80) rotate(-45)" font-size="4.4" fill="#222" stroke="#222" stroke-width="0.05">0 min</text>
<text x="122.00" y="622.53" font-size="4.8" text-anchor="middle" stroke="#1a1a1a" stroke-width="0.04">-</text>
<text transform="translate(131.70,617.80) rotate(-45)" font-size="4.4" fill="#222" stroke="#222" stroke-width="0.05">5 min</text>
<text x="131.40" y="622.53" font-size="4.8" text-anchor="middle" stroke="#1a1a1a" stroke-width="0.04">+</text>
<text transform="translate(141.80,617.80) rotate(-45)" font-size="4.4" fill="#222" stroke="#222" stroke-width="0.05">10 min</text>
<text x="141.50" y="622.53" font-size="4.8" text-anchor="middle" stroke="#1a1a1a" stroke-width="0.04">+</text>
<text transform="translate(151.50,617.80) rotate(-45)" font-size="4.4" fill="#222" stroke="#222" stroke-width="0.05">30 min</text>
<text x="151.20" y="622.53" font-size="4.8" text-anchor="middle" stroke="#1a1a1a" stroke-width="0.04">+</text>
<text transform="translate(161.70,617.80) rotate(-45)" font-size="4.4" fill="#222" stroke="#222" stroke-width="0.05">1 h</text>
<text x="161.40" y="622.53" font-size="4.8" text-anchor="middle" stroke="#1a1a1a" stroke-width="0.04">+</text>
<text transform="translate(171.60,617.80) rotate(-45)" font-size="4.4" fill="#222" stroke="#222" stroke-width="0.05">2 h</text>
<text x="171.30" y="622.53" font-size="4.8" text-anchor="middle" stroke="#1a1a1a" stroke-width="0.04">+</text>
<text transform="translate(188.80,617.80) rotate(-45)" font-size="4.4" fill="#222" stroke="#222" stroke-width="0.05">0 min</text>
<text x="188.50" y="622.53" font-size="4.8" text-anchor="middle" stroke="#1a1a1a" stroke-width="0.04">-</text>
<text transform="translate(199.10,617.80) rotate(-45)" font-size="4.4" fill="#222" stroke="#222" stroke-width="0.05">5 min</text>
<text x="198.80" y="622.53" font-size="4.8" text-anchor="middle" stroke="#1a1a1a" stroke-width="0.04">+</text>
<text transform="translate(208.60,617.80) rotate(-45)" font-size="4.4" fill="#222" stroke="#222" stroke-width="0.05">10 min</text>
<text x="208.30" y="622.53" font-size="4.8" text-anchor="middle" stroke="#1a1a1a" stroke-width="0.04">+</text>
<text transform="translate(218.10,617.80) rotate(-45)" font-size="4.4" fill="#222" stroke="#222" stroke-width="0.05">30 min</text>
<text x="217.80" y="622.53" font-size="4.8" text-anchor="middle" stroke="#1a1a1a" stroke-width="0.04">+</text>
<text transform="translate(227.90,617.80) rotate(-45)" font-size="4.4" fill="#222" stroke="#222" stroke-width="0.05">1 h</text>
<text x="227.60" y="622.53" font-size="4.8" text-anchor="middle" stroke="#1a1a1a" stroke-width="0.04">+</text>
<text transform="translate(237.80,617.80) rotate(-45)" font-size="4.4" fill="#222" stroke="#222" stroke-width="0.05">2 h</text>
<text x="237.50" y="622.53" font-size="4.8" text-anchor="middle" stroke="#1a1a1a" stroke-width="0.04">+</text>
<text x="246.70" y="621.96" font-size="4.6" textLength="29" lengthAdjust="spacingAndGlyphs" fill="#222" style="font-style:italic" stroke="#222" stroke-width="0.04">anti-CD3/CD28</text>
<rect x="114.30" y="622.00" width="131.20" height="11.50" fill="#d3dcf2" stroke="#111" stroke-width="1.1"/>
<text x="246.90" y="629.31" font-size="4.6" textLength="21.5" lengthAdjust="spacingAndGlyphs" fill="#222" style="font-style:italic" stroke="#222" stroke-width="0.04">44 / 42 kDa</text>
<ellipse cx="131.40" cy="627.35" rx="3.9" ry="0.6" fill="#0a0f25" opacity="0.15" filter="url(#bl)"/>
<ellipse cx="141.50" cy="627.35" rx="3.9" ry="0.65" fill="#0a0f25" opacity="0.80" filter="url(#bl)"/>
<ellipse cx="151.20" cy="627.35" rx="3.9" ry="0.6" fill="#0a0f25" opacity="0.60" filter="url(#bl)"/>
<ellipse cx="161.40" cy="627.35" rx="3.9" ry="0.7" fill="#0a0f25" opacity="0.85" filter="url(#bl)"/>
<ellipse cx="171.30" cy="627.35" rx="3.9" ry="0.65" fill="#0a0f25" opacity="0.75" filter="url(#bl)"/>
<ellipse cx="188.50" cy="627.35" rx="3.9" ry="0.6" fill="#0a0f25" opacity="0.10" filter="url(#bl)"/>
<ellipse cx="198.80" cy="627.35" rx="3.9" ry="0.7" fill="#0a0f25" opacity="0.40" filter="url(#bl)"/>
<ellipse cx="208.30" cy="627.35" rx="3.9" ry="1.6" fill="#0a0f25" opacity="1.00" filter="url(#bl)"/>
<ellipse cx="208.30" cy="625.25" rx="3.5" ry="0.75" fill="#0a0f25" opacity="0.35" filter="url(#bl)"/>
<ellipse cx="217.80" cy="627.35" rx="3.9" ry="1.6" fill="#0a0f25" opacity="1.00" filter="url(#bl)"/>
<ellipse cx="217.80" cy="625.25" rx="3.5" ry="0.75" fill="#0a0f25" opacity="0.35" filter="url(#bl)"/>
<ellipse cx="227.60" cy="627.35" rx="3.9" ry="1.1" fill="#0a0f25" opacity="0.90" filter="url(#bl)"/>
<ellipse cx="227.60" cy="625.25" rx="3.5" ry="0.75" fill="#0a0f25" opacity="0.25" filter="url(#bl)"/>
<ellipse cx="237.50" cy="627.35" rx="3.9" ry="0.8" fill="#0a0f25" opacity="0.60" filter="url(#bl)"/>
<rect x="114.30" y="639.50" width="131.20" height="12.00" fill="#d3dcf2" stroke="#111" stroke-width="1.1"/>
<text x="246.90" y="647.06" font-size="4.6" textLength="21.5" lengthAdjust="spacingAndGlyphs" fill="#222" style="font-style:italic" stroke="#222" stroke-width="0.04">44 / 42 kDa</text>
<ellipse cx="122.00" cy="645.30" rx="3.9" ry="1.3" fill="#0a0f25" opacity="0.90" filter="url(#bl)"/>
<ellipse cx="131.40" cy="645.30" rx="3.9" ry="1.3" fill="#0a0f25" opacity="0.90" filter="url(#bl)"/>
<ellipse cx="141.50" cy="645.30" rx="3.9" ry="1.3" fill="#0a0f25" opacity="0.90" filter="url(#bl)"/>
<ellipse cx="151.20" cy="645.30" rx="3.9" ry="1.3" fill="#0a0f25" opacity="0.90" filter="url(#bl)"/>
<ellipse cx="161.40" cy="645.30" rx="3.9" ry="1.3" fill="#0a0f25" opacity="0.90" filter="url(#bl)"/>
<ellipse cx="171.30" cy="645.30" rx="3.9" ry="1.3" fill="#0a0f25" opacity="0.90" filter="url(#bl)"/>
<ellipse cx="188.50" cy="645.30" rx="3.9" ry="1.3" fill="#0a0f25" opacity="0.85" filter="url(#bl)"/>
<ellipse cx="198.80" cy="645.30" rx="3.9" ry="1.3" fill="#0a0f25" opacity="0.85" filter="url(#bl)"/>
<ellipse cx="208.30" cy="645.30" rx="3.9" ry="1.3" fill="#0a0f25" opacity="0.85" filter="url(#bl)"/>
<ellipse cx="217.80" cy="645.30" rx="3.9" ry="1.3" fill="#0a0f25" opacity="0.85" filter="url(#bl)"/>
<ellipse cx="227.60" cy="645.30" rx="3.9" ry="1.3" fill="#0a0f25" opacity="0.85" filter="url(#bl)"/>
<ellipse cx="237.50" cy="645.30" rx="3.9" ry="1.3" fill="#0a0f25" opacity="0.85" filter="url(#bl)"/>
<rect x="114.30" y="657.50" width="131.20" height="12.00" fill="#d3dcf2" stroke="#111" stroke-width="1.1"/>
<text x="246.90" y="665.06" font-size="4.6" textLength="12.5" lengthAdjust="spacingAndGlyphs" fill="#222" style="font-style:italic" stroke="#222" stroke-width="0.04">14 kDa</text>
<ellipse cx="188.50" cy="664.20" rx="3.9" ry="1.6" fill="#0a0f25" opacity="1.00" filter="url(#bl)"/>
<ellipse cx="198.80" cy="664.20" rx="3.9" ry="1.6" fill="#0a0f25" opacity="1.00" filter="url(#bl)"/>
<ellipse cx="208.30" cy="664.20" rx="3.9" ry="1.6" fill="#0a0f25" opacity="1.00" filter="url(#bl)"/>
<ellipse cx="217.80" cy="664.20" rx="3.9" ry="1.6" fill="#0a0f25" opacity="1.00" filter="url(#bl)"/>
<ellipse cx="227.60" cy="664.20" rx="3.9" ry="1.6" fill="#0a0f25" opacity="1.00" filter="url(#bl)"/>
<ellipse cx="237.50" cy="664.20" rx="3.9" ry="1.6" fill="#0a0f25" opacity="1.00" filter="url(#bl)"/>
<rect x="114.30" y="675.60" width="131.20" height="11.90" fill="#d3dcf2" stroke="#111" stroke-width="1.1"/>
<text x="246.90" y="683.11" font-size="4.6" textLength="12.5" lengthAdjust="spacingAndGlyphs" fill="#222" style="font-style:italic" stroke="#222" stroke-width="0.04">42 kDa</text>
<ellipse cx="122.00" cy="682.45" rx="3.9" ry="1.05" fill="#0a0f25" opacity="1.00" filter="url(#bl)"/>
<ellipse cx="131.40" cy="682.45" rx="3.9" ry="1.05" fill="#0a0f25" opacity="1.00" filter="url(#bl)"/>
<ellipse cx="141.50" cy="682.45" rx="3.9" ry="1.05" fill="#0a0f25" opacity="1.00" filter="url(#bl)"/>
<ellipse cx="151.20" cy="682.45" rx="3.9" ry="1.05" fill="#0a0f25" opacity="1.00" filter="url(#bl)"/>
<ellipse cx="161.40" cy="682.45" rx="3.9" ry="1.05" fill="#0a0f25" opacity="1.00" filter="url(#bl)"/>
<ellipse cx="171.30" cy="682.45" rx="3.9" ry="1.05" fill="#0a0f25" opacity="1.00" filter="url(#bl)"/>
<ellipse cx="188.50" cy="682.45" rx="3.9" ry="1.05" fill="#0a0f25" opacity="1.00" filter="url(#bl)"/>
<ellipse cx="198.80" cy="682.45" rx="3.9" ry="1.05" fill="#0a0f25" opacity="1.00" filter="url(#bl)"/>
<ellipse cx="208.30" cy="682.45" rx="3.9" ry="1.05" fill="#0a0f25" opacity="1.00" filter="url(#bl)"/>
<ellipse cx="217.80" cy="682.45" rx="3.9" ry="1.05" fill="#0a0f25" opacity="1.00" filter="url(#bl)"/>
<ellipse cx="227.60" cy="682.45" rx="3.9" ry="1.05" fill="#0a0f25" opacity="1.00" filter="url(#bl)"/>
<ellipse cx="237.50" cy="682.45" rx="3.9" ry="1.05" fill="#0a0f25" opacity="1.00" filter="url(#bl)"/>
<text x="122.00" y="637.83" font-size="4.5" text-anchor="middle" fill="#222" stroke="#222" stroke-width="0.04">1.0</text>
<text x="131.40" y="637.83" font-size="4.5" text-anchor="middle" fill="#222" stroke="#222" stroke-width="0.04">3.0</text>
<text x="141.50" y="637.83" font-size="4.5" text-anchor="middle" fill="#222" stroke="#222" stroke-width="0.04">28.7</text>
<text x="151.20" y="637.83" font-size="4.5" text-anchor="middle" fill="#222" stroke="#222" stroke-width="0.04">12.8</text>
<text x="161.40" y="637.83" font-size="4.5" text-anchor="middle" fill="#222" stroke="#222" stroke-width="0.04">33.5</text>
<text x="171.30" y="637.83" font-size="4.5" text-anchor="middle" fill="#222" stroke="#222" stroke-width="0.04">28.6</text>
<text x="188.50" y="637.83" font-size="4.5" text-anchor="middle" fill="#222" stroke="#222" stroke-width="0.04">1.9</text>
<text x="198.80" y="637.83" font-size="4.5" text-anchor="middle" fill="#222" stroke="#222" stroke-width="0.04">9.2</text>
<text x="208.30" y="637.83" font-size="4.5" text-anchor="middle" fill="#222" stroke="#222" stroke-width="0.04">87.5</text>
<text x="217.80" y="637.83" font-size="4.5" text-anchor="middle" fill="#222" stroke="#222" stroke-width="0.04">81.1</text>
<text x="227.60" y="637.83" font-size="4.5" text-anchor="middle" fill="#222" stroke="#222" stroke-width="0.04">54.8</text>
<text x="237.50" y="637.83" font-size="4.5" text-anchor="middle" fill="#222" stroke="#222" stroke-width="0.04">21.0</text>
<text x="122.00" y="656.03" font-size="4.5" text-anchor="middle" fill="#222" stroke="#222" stroke-width="0.04">1.0</text>
<text x="131.40" y="656.03" font-size="4.5" text-anchor="middle" fill="#222" stroke="#222" stroke-width="0.04">1.0</text>
<text x="141.50" y="656.03" font-size="4.5" text-anchor="middle" fill="#222" stroke="#222" stroke-width="0.04">0.9</text>
<text x="151.20" y="656.03" font-size="4.5" text-anchor="middle" fill="#222" stroke="#222" stroke-width="0.04">1.0</text>
<text x="161.40" y="656.03" font-size="4.5" text-anchor="middle" fill="#222" stroke="#222" stroke-width="0.04">1.3</text>
<text x="171.30" y="656.03" font-size="4.5" text-anchor="middle" fill="#222" stroke="#222" stroke-width="0.04">0.8</text>
<text x="188.50" y="656.03" font-size="4.5" text-anchor="middle" fill="#222" stroke="#222" stroke-width="0.04">1.6</text>
<text x="198.80" y="656.03" font-size="4.5" text-anchor="middle" fill="#222" stroke="#222" stroke-width="0.04">1.4</text>
<text x="208.30" y="656.03" font-size="4.5" text-anchor="middle" fill="#222" stroke="#222" stroke-width="0.04">1.8</text>
<text x="217.80" y="656.03" font-size="4.5" text-anchor="middle" fill="#222" stroke="#222" stroke-width="0.04">1.7</text>
<text x="227.60" y="656.03" font-size="4.5" text-anchor="middle" fill="#222" stroke="#222" stroke-width="0.04">1.4</text>
<text x="237.50" y="656.03" font-size="4.5" text-anchor="middle" fill="#222" stroke="#222" stroke-width="0.04">1.5</text>
<text x="122.00" y="674.03" font-size="4.5" text-anchor="middle" fill="#222" stroke="#222" stroke-width="0.04">1.0</text>
<text x="131.40" y="674.03" font-size="4.5" text-anchor="middle" fill="#222" stroke="#222" stroke-width="0.04">1.3</text>
<text x="141.50" y="674.03" font-size="4.5" text-anchor="middle" fill="#222" stroke="#222" stroke-width="0.04">1.6</text>
<text x="151.20" y="674.03" font-size="4.5" text-anchor="middle" fill="#222" stroke="#222" stroke-width="0.04">1.0</text>
<text x="161.40" y="674.03" font-size="4.5" text-anchor="middle" fill="#222" stroke="#222" stroke-width="0.04">1.3</text>
<text x="171.30" y="674.03" font-size="4.5" text-anchor="middle" fill="#222" stroke="#222" stroke-width="0.04">1.4</text>
<text x="188.50" y="674.03" font-size="4.5" text-anchor="middle" fill="#222" stroke="#222" stroke-width="0.04">77.5</text>
<text x="198.80" y="674.03" font-size="4.5" text-anchor="middle" fill="#222" stroke="#222" stroke-width="0.04">64.4</text>
<text x="208.30" y="674.03" font-size="4.5" text-anchor="middle" fill="#222" stroke="#222" stroke-width="0.04">72.9</text>
<text x="217.80" y="674.03" font-size="4.5" text-anchor="middle" fill="#222" stroke="#222" stroke-width="0.04">76.0</text>
<text x="227.60" y="674.03" font-size="4.5" text-anchor="middle" fill="#222" stroke="#222" stroke-width="0.04">60.5</text>
<text x="237.50" y="674.03" font-size="4.5" text-anchor="middle" fill="#222" stroke="#222" stroke-width="0.04">58.0</text>
<text x="96.10" y="632.60" font-size="6.7" text-anchor="end" textLength="20.7" lengthAdjust="spacingAndGlyphs" fill="#333" stroke="#333" stroke-width="0.1">pERK1/2</text>
<text x="96.60" y="627.60" font-size="3.4" textLength="15.6" lengthAdjust="spacingAndGlyphs" fill="#333" stroke="#333" stroke-width="0.04">Tyr202/204</text>
<text x="112.20" y="648.01" font-size="6.8" text-anchor="end" textLength="17" lengthAdjust="spacingAndGlyphs" fill="#333" stroke="#333" stroke-width="0.2">ERK1/2</text>
<text x="112.20" y="666.01" font-size="6.8" text-anchor="end" textLength="16.1" lengthAdjust="spacingAndGlyphs" fill="#333" stroke="#333" stroke-width="0.2">TCL1A</text>
<text x="112.20" y="684.06" font-size="6.8" text-anchor="end" textLength="16.1" lengthAdjust="spacingAndGlyphs" fill="#333" stroke="#333" stroke-width="0.2">β actin</text>
<rect x="186.00" y="662.40" width="56.00" height="3.30" fill="#0a0f25" rx="1.5" filter="url(#bl)"/>
<line x1="319.60" y1="481.50" x2="319.60" y2="557.50" stroke="#1a1a1a" stroke-width="1.0"/>
<line x1="317.40" y1="557.00" x2="319.60" y2="557.00" stroke="#1a1a1a" stroke-width="0.8"/>
<text x="316.00" y="558.77" font-size="5.2" text-anchor="end" stroke="#1a1a1a" stroke-width="0.1">0</text>
<line x1="317.40" y1="544.67" x2="319.60" y2="544.67" stroke="#1a1a1a" stroke-width="0.8"/>
<text x="316.00" y="546.43" font-size="5.2" text-anchor="end" stroke="#1a1a1a" stroke-width="0.1">2</text>
<line x1="317.40" y1="532.33" x2="319.60" y2="532.33" stroke="#1a1a1a" stroke-width="0.8"/>
<text x="316.00" y="534.10" font-size="5.2" text-anchor="end" stroke="#1a1a1a" stroke-width="0.1">4</text>
<line x1="317.40" y1="520.00" x2="319.60" y2="520.00" stroke="#1a1a1a" stroke-width="0.8"/>
<text x="316.00" y="521.77" font-size="5.2" text-anchor="end" stroke="#1a1a1a" stroke-width="0.1">6</text>
<line x1="317.40" y1="507.67" x2="319.60" y2="507.67" stroke="#1a1a1a" stroke-width="0.8"/>
<text x="316.00" y="509.43" font-size="5.2" text-anchor="end" stroke="#1a1a1a" stroke-width="0.1">8</text>
<line x1="317.40" y1="495.33" x2="319.60" y2="495.33" stroke="#1a1a1a" stroke-width="0.8"/>
<text x="316.00" y="497.10" font-size="5.2" text-anchor="end" stroke="#1a1a1a" stroke-width="0.1">10</text>
<line x1="317.40" y1="483.00" x2="319.60" y2="483.00" stroke="#1a1a1a" stroke-width="0.8"/>
<text x="316.00" y="484.77" font-size="5.2" text-anchor="end" stroke="#1a1a1a" stroke-width="0.1">12</text>
<line x1="319.60" y1="557.00" x2="393.10" y2="557.00" stroke="#1a1a1a" stroke-width="1.0"/>
<rect x="322.00" y="550.83" width="4.50" height="6.17" fill="#c6c5c9" />
<rect x="327.00" y="552.68" width="4.50" height="4.32" fill="#5ea6e0" />
<line x1="326.75" y1="557.00" x2="326.75" y2="559.00" stroke="#1a1a1a" stroke-width="0.7"/>
<text transform="translate(328.75,560.40) rotate(-45)" font-size="5.6" text-anchor="end" fill="#222">0 min</text>
<rect x="333.50" y="488.55" width="4.50" height="68.45" fill="#c6c5c9" />
<rect x="338.50" y="554.53" width="4.50" height="2.47" fill="#5ea6e0" />
<line x1="338.25" y1="557.00" x2="338.25" y2="559.00" stroke="#1a1a1a" stroke-width="0.7"/>
<text transform="translate(340.25,560.40) rotate(-45)" font-size="5.6" text-anchor="end" fill="#222">5 min</text>
<rect x="345.00" y="491.63" width="4.50" height="65.37" fill="#c6c5c9" />
<rect x="350.00" y="527.40" width="4.50" height="29.60" fill="#5ea6e0" />
<line x1="349.75" y1="557.00" x2="349.75" y2="559.00" stroke="#1a1a1a" stroke-width="0.7"/>
<text transform="translate(351.75,560.40) rotate(-45)" font-size="5.6" text-anchor="end" fill="#222">10 min</text>
<rect x="357.20" y="501.50" width="4.50" height="55.50" fill="#c6c5c9" />
<rect x="362.20" y="526.17" width="4.50" height="30.83" fill="#5ea6e0" />
<line x1="361.95" y1="557.00" x2="361.95" y2="559.00" stroke="#1a1a1a" stroke-width="0.7"/>
<text transform="translate(363.95,560.40) rotate(-45)" font-size="5.6" text-anchor="end" fill="#222">30 min</text>
<rect x="369.70" y="544.67" width="4.50" height="12.33" fill="#c6c5c9" />
<rect x="374.70" y="523.70" width="4.50" height="33.30" fill="#5ea6e0" />
<line x1="374.45" y1="557.00" x2="374.45" y2="559.00" stroke="#1a1a1a" stroke-width="0.7"/>
<text transform="translate(376.45,560.40) rotate(-45)" font-size="5.6" text-anchor="end" fill="#222">1 h</text>
<rect x="382.00" y="539.73" width="4.50" height="17.27" fill="#c6c5c9" />
<rect x="387.00" y="534.80" width="4.50" height="22.20" fill="#5ea6e0" />
<line x1="386.75" y1="557.00" x2="386.75" y2="559.00" stroke="#1a1a1a" stroke-width="0.7"/>
<text transform="translate(388.75,560.40) rotate(-45)" font-size="5.6" text-anchor="end" fill="#222">2 h</text>
<rect x="323.60" y="470.60" width="4.20" height="4.00" fill="#c6c5c9" />
<rect x="323.60" y="479.20" width="4.20" height="4.00" fill="#5ea6e0" />
<text x="330.60" y="474.16" font-size="4.6" textLength="101.8" lengthAdjust="spacingAndGlyphs" fill="#222" stroke="#222" stroke-width="0.04">CD3<tspan font-size="2.9" dy="-1.7">+</tspan><tspan dy="1.7"> splenocytes of C57BL/6J mice; age 2.5 months</tspan></text>
<text x="330.60" y="482.76" font-size="4.6" textLength="112" lengthAdjust="spacingAndGlyphs" fill="#222" stroke="#222" stroke-width="0.04">CD3<tspan font-size="2.9" dy="-1.7">+</tspan><tspan dy="1.7"> splenocytes of <tspan font-style="italic">Lck</tspan><tspan font-size="2.9" dy="-1.7">pr</tspan><tspan dy="1.7">-hTCL1A<tspan font-size="2.9" dy="-1.7">tg</tspan><tspan dy="1.7"> mice; age 2.5 months</tspan></tspan></text>
<text transform="translate(293.00,519.00) rotate(-90)" x="0" y="2.38" font-size="7.0" text-anchor="middle" textLength="88" lengthAdjust="spacingAndGlyphs" stroke="#1a1a1a" stroke-width="0.07">Quantification of pERK1/2<tspan font-size="2.9" dy="-1.7">Tyr202/204</tspan><tspan dy="1.7"></tspan></text>
<text transform="translate(302.20,519.00) rotate(-90)" x="0" y="2.38" font-size="7.0" text-anchor="middle" textLength="47.4" lengthAdjust="spacingAndGlyphs" stroke="#1a1a1a" stroke-width="0.07">(relative to β actin)</text>
<line x1="320.00" y1="595.50" x2="320.00" y2="670.80" stroke="#1a1a1a" stroke-width="1.0"/>
<line x1="317.80" y1="670.30" x2="320.00" y2="670.30" stroke="#1a1a1a" stroke-width="0.8"/>
<text x="316.40" y="672.07" font-size="5.2" text-anchor="end" stroke="#1a1a1a" stroke-width="0.1">0</text>
<line x1="317.80" y1="662.16" x2="320.00" y2="662.16" stroke="#1a1a1a" stroke-width="0.8"/>
<text x="316.40" y="663.92" font-size="5.2" text-anchor="end" stroke="#1a1a1a" stroke-width="0.1">10</text>
<line x1="317.80" y1="654.01" x2="320.00" y2="654.01" stroke="#1a1a1a" stroke-width="0.8"/>
<text x="316.40" y="655.78" font-size="5.2" text-anchor="end" stroke="#1a1a1a" stroke-width="0.1">20</text>
<line x1="317.80" y1="645.87" x2="320.00" y2="645.87" stroke="#1a1a1a" stroke-width="0.8"/>
<text x="316.40" y="647.63" font-size="5.2" text-anchor="end" stroke="#1a1a1a" stroke-width="0.1">30</text>
<line x1="317.80" y1="637.72" x2="320.00" y2="637.72" stroke="#1a1a1a" stroke-width="0.8"/>
<text x="316.40" y="639.49" font-size="5.2" text-anchor="end" stroke="#1a1a1a" stroke-width="0.1">40</text>
<line x1="317.80" y1="629.58" x2="320.00" y2="629.58" stroke="#1a1a1a" stroke-width="0.8"/>
<text x="316.40" y="631.35" font-size="5.2" text-anchor="end" stroke="#1a1a1a" stroke-width="0.1">50</text>
<line x1="317.80" y1="621.43" x2="320.00" y2="621.43" stroke="#1a1a1a" stroke-width="0.8"/>
<text x="316.40" y="623.20" font-size="5.2" text-anchor="end" stroke="#1a1a1a" stroke-width="0.1">60</text>
<line x1="317.80" y1="613.29" x2="320.00" y2="613.29" stroke="#1a1a1a" stroke-width="0.8"/>
<text x="316.40" y="615.06" font-size="5.2" text-anchor="end" stroke="#1a1a1a" stroke-width="0.1">70</text>
<line x1="317.80" y1="605.14" x2="320.00" y2="605.14" stroke="#1a1a1a" stroke-width="0.8"/>
<text x="316.40" y="606.91" font-size="5.2" text-anchor="end" stroke="#1a1a1a" stroke-width="0.1">80</text>
<line x1="317.80" y1="597.00" x2="320.00" y2="597.00" stroke="#1a1a1a" stroke-width="0.8"/>
<text x="316.40" y="598.77" font-size="5.2" text-anchor="end" stroke="#1a1a1a" stroke-width="0.1">90</text>
<line x1="320.00" y1="670.30" x2="393.70" y2="670.30" stroke="#1a1a1a" stroke-width="1.0"/>
<rect x="327.10" y="668.75" width="4.50" height="1.55" fill="#5ea6e0" />
<line x1="326.55" y1="670.30" x2="326.55" y2="672.30" stroke="#1a1a1a" stroke-width="0.7"/>
<text transform="translate(328.55,673.70) rotate(-45)" font-size="5.6" text-anchor="end" fill="#222">0 min</text>
<rect x="333.20" y="667.86" width="4.50" height="2.44" fill="#c6c5c9" />
<rect x="338.80" y="662.81" width="4.50" height="7.49" fill="#5ea6e0" />
<line x1="338.25" y1="670.30" x2="338.25" y2="672.30" stroke="#1a1a1a" stroke-width="0.7"/>
<text transform="translate(340.25,673.70) rotate(-45)" font-size="5.6" text-anchor="end" fill="#222">5 min</text>
<rect x="345.00" y="646.93" width="4.50" height="23.37" fill="#c6c5c9" />
<rect x="350.60" y="599.04" width="4.50" height="71.26" fill="#5ea6e0" />
<line x1="350.05" y1="670.30" x2="350.05" y2="672.30" stroke="#1a1a1a" stroke-width="0.7"/>
<text transform="translate(352.05,673.70) rotate(-45)" font-size="5.6" text-anchor="end" fill="#222">10 min</text>
<rect x="357.00" y="659.88" width="4.50" height="10.42" fill="#c6c5c9" />
<rect x="362.60" y="604.25" width="4.50" height="66.05" fill="#5ea6e0" />
<line x1="362.05" y1="670.30" x2="362.05" y2="672.30" stroke="#1a1a1a" stroke-width="0.7"/>
<text transform="translate(364.05,673.70) rotate(-45)" font-size="5.6" text-anchor="end" fill="#222">30 min</text>
<rect x="369.50" y="643.02" width="4.50" height="27.28" fill="#c6c5c9" />
<rect x="375.10" y="625.67" width="4.50" height="44.63" fill="#5ea6e0" />
<line x1="374.55" y1="670.30" x2="374.55" y2="672.30" stroke="#1a1a1a" stroke-width="0.7"/>
<text transform="translate(376.55,673.70) rotate(-45)" font-size="5.6" text-anchor="end" fill="#222">1 h</text>
<rect x="382.00" y="647.01" width="4.50" height="23.29" fill="#c6c5c9" />
<rect x="387.60" y="653.20" width="4.50" height="17.10" fill="#5ea6e0" />
<line x1="387.05" y1="670.30" x2="387.05" y2="672.30" stroke="#1a1a1a" stroke-width="0.7"/>
<text transform="translate(389.05,673.70) rotate(-45)" font-size="5.6" text-anchor="end" fill="#222">2 h</text>
<rect x="324.00" y="586.30" width="4.20" height="4.00" fill="#c6c5c9" />
<rect x="324.00" y="593.80" width="4.20" height="4.00" fill="#5ea6e0" />
<text x="331.00" y="589.86" font-size="4.6" textLength="94" lengthAdjust="spacingAndGlyphs" fill="#222" stroke="#222" stroke-width="0.04">CD3<tspan font-size="2.9" dy="-1.7">+</tspan><tspan dy="1.7"> splenocytes of C57BL/6J mice; age 12 months</tspan></text>
<text x="331.00" y="597.36" font-size="4.6" textLength="113.5" lengthAdjust="spacingAndGlyphs" fill="#222" stroke="#222" stroke-width="0.04">CD3<tspan font-size="2.9" dy="-1.7">+</tspan><tspan dy="1.7"> splenocytes of <tspan font-style="italic">Lck</tspan><tspan font-size="2.9" dy="-1.7">pr</tspan><tspan dy="1.7">-hTCL1A<tspan font-size="2.9" dy="-1.7">tg</tspan><tspan dy="1.7"> mice; age 12.5 months</tspan></tspan></text>
<text transform="translate(293.80,632.50) rotate(-90)" x="0" y="2.38" font-size="7.0" text-anchor="middle" textLength="88" lengthAdjust="spacingAndGlyphs" stroke="#1a1a1a" stroke-width="0.07">Quantification of pERK1/2<tspan font-size="2.9" dy="-1.7">Tyr202/204</tspan><tspan dy="1.7"></tspan></text>
<text transform="translate(303.00,632.50) rotate(-90)" x="0" y="2.38" font-size="7.0" text-anchor="middle" textLength="47.4" lengthAdjust="spacingAndGlyphs" stroke="#1a1a1a" stroke-width="0.07">(relative to β actin)</text>
<rect x="0.00" y="0.00" width="520.00" height="0.90" fill="#000" />
<rect x="0.00" y="0.00" width="0.95" height="694.00" fill="#000" />
<rect x="518.75" y="0.00" width="1.25" height="694.00" fill="#000" />
<rect x="0.00" y="692.70" width="520.00" height="1.30" fill="#000" />
</svg></body></html>
